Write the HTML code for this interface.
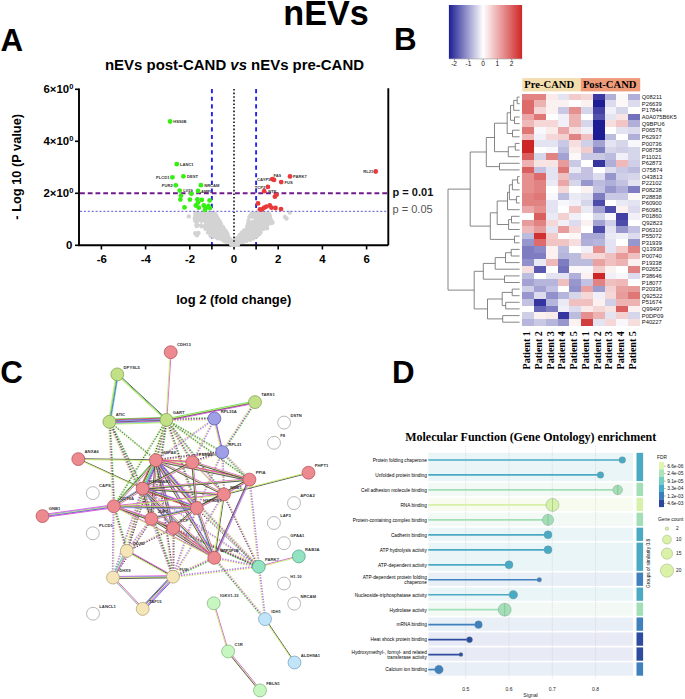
<!DOCTYPE html>
<html><head><meta charset="utf-8"><style>
html,body{margin:0;padding:0;background:#fff;width:685px;height:699px;overflow:hidden}
svg{display:block}
</style></head><body>
<svg width="685" height="699" viewBox="0 0 685 699">
<rect width="685" height="699" fill="#fff"/>
<text x="283.30" y="25.40" text-anchor="start" style="font-family:'Liberation Sans',sans-serif;font-size:34.2px;font-weight:bold;fill:#000;" >nEVs</text>
<text x="0.60" y="50.60" text-anchor="start" style="font-family:'Liberation Sans',sans-serif;font-size:31.3px;font-weight:bold;fill:#000;" >A</text>
<text x="393.90" y="50.30" text-anchor="start" style="font-family:'Liberation Sans',sans-serif;font-size:31.3px;font-weight:bold;fill:#000;" >B</text>
<text x="0.30" y="382.60" text-anchor="start" style="font-family:'Liberation Sans',sans-serif;font-size:31.3px;font-weight:bold;fill:#000;" >C</text>
<text x="392.00" y="382.50" text-anchor="start" style="font-family:'Liberation Sans',sans-serif;font-size:31.3px;font-weight:bold;fill:#000;" >D</text>
<text x="105" y="69.6" style="font-family:'Liberation Sans',sans-serif;font-size:14.95px;font-weight:bold;fill:#000">nEVs post-CAND <tspan style="font-style:italic">vs</tspan> nEVs pre-CAND</text>
<text transform="translate(20.9,166.8) rotate(-90)" text-anchor="middle" style="font-family:'Liberation Sans',sans-serif;font-size:12.8px;font-weight:bold">- Log 10 (P value)</text>
<text x="233.70" y="303.60" text-anchor="middle" style="font-family:'Liberation Sans',sans-serif;font-size:12.95px;font-weight:bold;fill:#000;" >log 2 (fold change)</text>
<text x="73.4" y="93.40" text-anchor="end" style="font-family:'Liberation Sans',sans-serif;font-size:11.4px;font-weight:bold">6×10<tspan dy="-4" style="font-size:7.6px">0</tspan></text>
<text x="73.4" y="145.40" text-anchor="end" style="font-family:'Liberation Sans',sans-serif;font-size:11.4px;font-weight:bold">4×10<tspan dy="-4" style="font-size:7.6px">0</tspan></text>
<text x="73.4" y="197.40" text-anchor="end" style="font-family:'Liberation Sans',sans-serif;font-size:11.4px;font-weight:bold">2×10<tspan dy="-4" style="font-size:7.6px">0</tspan></text>
<text x="72.40" y="249.40" text-anchor="end" style="font-family:'Liberation Sans',sans-serif;font-size:11.4px;font-weight:bold;fill:#000;" >0</text>
<text x="101.70" y="263.20" text-anchor="middle" style="font-family:'Liberation Sans',sans-serif;font-size:11.4px;font-weight:bold;fill:#000;" >-6</text>
<text x="145.90" y="263.20" text-anchor="middle" style="font-family:'Liberation Sans',sans-serif;font-size:11.4px;font-weight:bold;fill:#000;" >-4</text>
<text x="190.10" y="263.20" text-anchor="middle" style="font-family:'Liberation Sans',sans-serif;font-size:11.4px;font-weight:bold;fill:#000;" >-2</text>
<text x="234.00" y="263.20" text-anchor="middle" style="font-family:'Liberation Sans',sans-serif;font-size:11.4px;font-weight:bold;fill:#000;" >0</text>
<text x="278.20" y="263.20" text-anchor="middle" style="font-family:'Liberation Sans',sans-serif;font-size:11.4px;font-weight:bold;fill:#000;" >2</text>
<text x="322.40" y="263.20" text-anchor="middle" style="font-family:'Liberation Sans',sans-serif;font-size:11.4px;font-weight:bold;fill:#000;" >4</text>
<text x="366.60" y="263.20" text-anchor="middle" style="font-family:'Liberation Sans',sans-serif;font-size:11.4px;font-weight:bold;fill:#000;" >6</text>
<line x1="211.9" y1="89" x2="211.9" y2="245" stroke="#2424f0" stroke-width="1.9" stroke-dasharray="4.2 3.45"/>
<line x1="256.1" y1="89" x2="256.1" y2="245" stroke="#2424f0" stroke-width="1.9" stroke-dasharray="4.2 3.45"/>
<g fill="#d3d3d3">
<polygon points="195.9,213.9 215.4,213.9 217.6,219.2 222.9,226.2 227.2,234.0 231.5,241.8 232.5,244.4 229.8,244.4 226.6,241.7 217.6,238.0 211.0,235.6 207.9,232.5 205.1,228.9 201.3,226.1 196.7,226.1 196.0,224.4 195.2,220.6 195.2,213.0"/>
<circle cx="195.8" cy="213.6" r="2.2"/>
<circle cx="198.5" cy="213.5" r="2.2"/>
<circle cx="200.8" cy="213.8" r="2.2"/>
<circle cx="202.8" cy="213.9" r="2.2"/>
<circle cx="205.2" cy="213.8" r="2.2"/>
<circle cx="207.7" cy="213.5" r="2.2"/>
<circle cx="210.5" cy="214.2" r="2.2"/>
<circle cx="212.6" cy="213.6" r="2.2"/>
<circle cx="215.5" cy="214.3" r="2.2"/>
<circle cx="216.6" cy="216.4" r="2.2"/>
<circle cx="218.0" cy="218.7" r="2.2"/>
<circle cx="219.7" cy="221.3" r="2.2"/>
<circle cx="220.8" cy="223.5" r="2.2"/>
<circle cx="222.7" cy="226.6" r="2.2"/>
<circle cx="224.0" cy="228.9" r="2.2"/>
<circle cx="225.9" cy="231.3" r="2.2"/>
<circle cx="227.2" cy="233.6" r="2.2"/>
<circle cx="228.2" cy="236.3" r="2.2"/>
<circle cx="230.2" cy="239.1" r="2.2"/>
<circle cx="231.3" cy="241.9" r="2.2"/>
<circle cx="232.4" cy="244.2" r="2.2"/>
<circle cx="230.1" cy="244.6" r="2.2"/>
<circle cx="226.3" cy="241.8" r="2.2"/>
<circle cx="224.4" cy="241.1" r="2.2"/>
<circle cx="222.3" cy="239.6" r="2.2"/>
<circle cx="220.3" cy="238.6" r="2.2"/>
<circle cx="217.5" cy="238.3" r="2.2"/>
<circle cx="213.9" cy="236.8" r="2.2"/>
<circle cx="210.5" cy="235.8" r="2.2"/>
<circle cx="208.1" cy="232.6" r="2.2"/>
<circle cx="205.5" cy="228.7" r="2.2"/>
<circle cx="201.5" cy="226.2" r="2.2"/>
<circle cx="196.8" cy="226.1" r="2.2"/>
<circle cx="196.4" cy="224.8" r="2.2"/>
<circle cx="195.2" cy="220.7" r="2.2"/>
<circle cx="194.8" cy="218.3" r="2.2"/>
<circle cx="195.3" cy="216.0" r="2.2"/>
<circle cx="195.5" cy="212.8" r="2.2"/>
<polygon points="251.6,213.7 269.0,213.7 269.3,215.1 271.2,219.9 272.1,222.9 270.8,223.5 267.2,225.3 266.3,228.0 264.0,228.8 260.8,232.0 257.2,235.6 252.7,238.2 246.4,241.0 238.9,242.8 234.9,244.1 233.5,241.4 237.2,237.8 241.9,233.1 245.9,229.0 248.7,223.6 249.2,217.9"/>
<circle cx="251.5" cy="213.9" r="2.2"/>
<circle cx="253.6" cy="213.7" r="2.2"/>
<circle cx="256.3" cy="213.3" r="2.2"/>
<circle cx="258.6" cy="214.0" r="2.2"/>
<circle cx="261.2" cy="213.4" r="2.2"/>
<circle cx="263.9" cy="214.1" r="2.2"/>
<circle cx="266.1" cy="213.6" r="2.2"/>
<circle cx="269.1" cy="214.1" r="2.2"/>
<circle cx="269.6" cy="215.4" r="2.2"/>
<circle cx="270.0" cy="217.4" r="2.2"/>
<circle cx="271.1" cy="220.3" r="2.2"/>
<circle cx="272.5" cy="222.5" r="2.2"/>
<circle cx="270.5" cy="223.2" r="2.2"/>
<circle cx="266.9" cy="225.3" r="2.2"/>
<circle cx="266.4" cy="227.8" r="2.2"/>
<circle cx="263.5" cy="228.7" r="2.2"/>
<circle cx="260.7" cy="232.1" r="2.2"/>
<circle cx="259.5" cy="234.0" r="2.2"/>
<circle cx="257.2" cy="235.7" r="2.2"/>
<circle cx="255.2" cy="236.5" r="2.2"/>
<circle cx="253.1" cy="238.5" r="2.2"/>
<circle cx="250.0" cy="239.9" r="2.2"/>
<circle cx="246.3" cy="240.9" r="2.2"/>
<circle cx="243.5" cy="241.7" r="2.2"/>
<circle cx="241.0" cy="241.8" r="2.2"/>
<circle cx="238.6" cy="242.4" r="2.2"/>
<circle cx="234.7" cy="243.7" r="2.2"/>
<circle cx="233.0" cy="241.1" r="2.2"/>
<circle cx="235.0" cy="239.5" r="2.2"/>
<circle cx="236.7" cy="238.2" r="2.2"/>
<circle cx="239.6" cy="235.1" r="2.2"/>
<circle cx="241.6" cy="232.9" r="2.2"/>
<circle cx="243.8" cy="230.7" r="2.2"/>
<circle cx="246.3" cy="229.5" r="2.2"/>
<circle cx="247.3" cy="226.3" r="2.2"/>
<circle cx="248.2" cy="223.2" r="2.2"/>
<circle cx="248.7" cy="220.5" r="2.2"/>
<circle cx="249.5" cy="217.6" r="2.2"/>
<circle cx="249.9" cy="216.3" r="2.2"/>
<circle cx="188.8" cy="216.4" r="2.2"/>
<circle cx="195.2" cy="233.3" r="2.2"/>
<circle cx="198.5" cy="233.0" r="2.2"/>
<circle cx="197" cy="235.3" r="2.2"/>
<circle cx="285" cy="217.0" r="2.2"/>
<circle cx="286.5" cy="218.5" r="2.2"/>
<circle cx="289.8" cy="212.6" r="2.2"/>
<circle cx="267" cy="228.2" r="2.2"/>
<circle cx="272" cy="222.5" r="2.2"/>
</g>
<g fill="#fff"><circle cx="199.5" cy="223" r="1.1"/><circle cx="203" cy="223.5" r="1.0"/><circle cx="251" cy="219.5" r="0.9"/><circle cx="253" cy="219.3" r="0.8"/></g>
<line x1="234.0" y1="89" x2="234.0" y2="245" stroke="#111" stroke-width="1.6" stroke-dasharray="1.6 2.0"/>
<line x1="80" y1="193.3" x2="388" y2="193.3" stroke="#701a8c" stroke-width="2.1" stroke-dasharray="4.8 2.95"/>
<line x1="80" y1="211.3" x2="388" y2="211.3" stroke="#7878d8" stroke-width="1.2" stroke-dasharray="2 1.9"/>
<path d="M79,88.5 V245.3 H388.3 M388.3,88.2 V245.3" fill="none" stroke="#000" stroke-width="1.9"/>
<line x1="75" y1="89.3" x2="79" y2="89.3" stroke="#000" stroke-width="1.6"/>
<line x1="75" y1="141.3" x2="79" y2="141.3" stroke="#000" stroke-width="1.6"/>
<line x1="75" y1="193.3" x2="79" y2="193.3" stroke="#000" stroke-width="1.6"/>
<line x1="75" y1="245.3" x2="79" y2="245.3" stroke="#000" stroke-width="1.6"/>
<line x1="101.4" y1="245" x2="101.4" y2="249.5" stroke="#000" stroke-width="1.6"/>
<line x1="145.6" y1="245" x2="145.6" y2="249.5" stroke="#000" stroke-width="1.6"/>
<line x1="189.8" y1="245" x2="189.8" y2="249.5" stroke="#000" stroke-width="1.6"/>
<line x1="211.9" y1="245" x2="211.9" y2="249.5" stroke="#000" stroke-width="1.6"/>
<line x1="234.0" y1="245" x2="234.0" y2="249.5" stroke="#000" stroke-width="1.6"/>
<line x1="256.1" y1="245" x2="256.1" y2="249.5" stroke="#000" stroke-width="1.6"/>
<line x1="278.2" y1="245" x2="278.2" y2="249.5" stroke="#000" stroke-width="1.6"/>
<line x1="322.4" y1="245" x2="322.4" y2="249.5" stroke="#000" stroke-width="1.6"/>
<line x1="366.6" y1="245" x2="366.6" y2="249.5" stroke="#000" stroke-width="1.6"/>
<g fill="#d3d3d3"><circle cx="233" cy="245" r="2.2"/><circle cx="236" cy="245" r="2.2"/><circle cx="231" cy="244" r="2.2"/><circle cx="238" cy="244.5" r="2.2"/></g>
<g fill="#36ee12">
<circle cx="170.1" cy="121.5" r="2.4"/>
<circle cx="176.8" cy="164.2" r="2.4"/>
<circle cx="172.4" cy="177.3" r="2.4"/>
<circle cx="183.4" cy="176.3" r="2.4"/>
<circle cx="175.8" cy="185.3" r="2.4"/>
<circle cx="200.9" cy="185.2" r="2.4"/>
<circle cx="179.7" cy="190.6" r="2.4"/>
<circle cx="198.1" cy="191" r="2.4"/>
<circle cx="191.4" cy="193.8" r="2.4"/>
<circle cx="180.9" cy="195.7" r="2.4"/>
<circle cx="180.4" cy="199.6" r="2.4"/>
<circle cx="189.9" cy="199.6" r="2.4"/>
<circle cx="197.4" cy="199.3" r="2.4"/>
<circle cx="201.8" cy="199.9" r="2.4"/>
<circle cx="209.6" cy="200.4" r="2.4"/>
<circle cx="184.5" cy="207.4" r="2.4"/>
<circle cx="195.9" cy="205.5" r="2.4"/>
<circle cx="198" cy="202.6" r="2.4"/>
<circle cx="198.8" cy="207.7" r="2.4"/>
<circle cx="203.8" cy="205.5" r="2.4"/>
<circle cx="206.1" cy="207.7" r="2.4"/>
<circle cx="210" cy="208.1" r="2.4"/>
<circle cx="208.6" cy="205.9" r="2.4"/>
<circle cx="205" cy="209.9" r="2.4"/>
</g><g fill="#e83a3a">
<circle cx="375.7" cy="171.5" r="2.4"/>
<circle cx="272.3" cy="179.2" r="2.4"/>
<circle cx="274" cy="179.9" r="2.4"/>
<circle cx="290" cy="176.4" r="2.4"/>
<circle cx="281.2" cy="182.1" r="2.4"/>
<circle cx="267.9" cy="186.9" r="2.4"/>
<circle cx="264.2" cy="191.2" r="2.4"/>
<circle cx="276.6" cy="194.7" r="2.4"/>
<circle cx="274.9" cy="196.7" r="2.4"/>
<circle cx="258" cy="203.4" r="2.4"/>
<circle cx="259.9" cy="209.4" r="2.4"/>
<circle cx="264.2" cy="207.7" r="2.4"/>
<circle cx="266.4" cy="206.6" r="2.4"/>
<circle cx="269.8" cy="205.5" r="2.4"/>
<circle cx="271.5" cy="207.7" r="2.4"/>
<circle cx="275.5" cy="208" r="2.4"/>
<circle cx="281" cy="209.1" r="2.4"/>
<circle cx="262" cy="209.5" r="2.4"/>
</g>
<text x="173.30" y="123.00" text-anchor="start" style="font-family:'Liberation Sans',sans-serif;font-size:4.1px;font-weight:bold;fill:#333;" >HS90B</text>
<text x="180.00" y="165.70" text-anchor="start" style="font-family:'Liberation Sans',sans-serif;font-size:4.1px;font-weight:bold;fill:#333;" >LANC1</text>
<text x="169.50" y="178.80" text-anchor="end" style="font-family:'Liberation Sans',sans-serif;font-size:4.1px;font-weight:bold;fill:#333;" >PLCD1</text>
<text x="187.00" y="177.80" text-anchor="start" style="font-family:'Liberation Sans',sans-serif;font-size:4.1px;font-weight:bold;fill:#333;" >DEST</text>
<text x="172.70" y="186.80" text-anchor="end" style="font-family:'Liberation Sans',sans-serif;font-size:4.1px;font-weight:bold;fill:#333;" >PUR2</text>
<text x="204.20" y="186.70" text-anchor="start" style="font-family:'Liberation Sans',sans-serif;font-size:4.1px;font-weight:bold;fill:#333;" >NRCAM</text>
<text x="183.20" y="192.10" text-anchor="start" style="font-family:'Liberation Sans',sans-serif;font-size:4.1px;font-weight:bold;fill:#333;" >LV39</text>
<text x="201.00" y="192.50" text-anchor="start" style="font-family:'Liberation Sans',sans-serif;font-size:4.1px;font-weight:bold;fill:#333;" >AMPL</text>
<text x="373.20" y="173.00" text-anchor="end" style="font-family:'Liberation Sans',sans-serif;font-size:4.1px;font-weight:bold;fill:#333;" >RL21</text>
<text x="273.50" y="177.10" text-anchor="start" style="font-family:'Liberation Sans',sans-serif;font-size:4.1px;font-weight:bold;fill:#333;" >FA9</text>
<text x="270.40" y="180.90" text-anchor="end" style="font-family:'Liberation Sans',sans-serif;font-size:4.1px;font-weight:bold;fill:#333;" >CAYP1</text>
<text x="293.10" y="177.90" text-anchor="start" style="font-family:'Liberation Sans',sans-serif;font-size:4.1px;font-weight:bold;fill:#333;" >PARK7</text>
<text x="284.50" y="183.60" text-anchor="start" style="font-family:'Liberation Sans',sans-serif;font-size:4.1px;font-weight:bold;fill:#333;" >FUS</text>
<text x="265.30" y="188.50" text-anchor="end" style="font-family:'Liberation Sans',sans-serif;font-size:4.1px;font-weight:bold;fill:#333;" >TCP2</text>
<text x="268.30" y="192.90" text-anchor="start" style="font-family:'Liberation Sans',sans-serif;font-size:4.1px;font-weight:bold;fill:#333;" >NTE</text>
<text x="392.60" y="195.60" text-anchor="start" style="font-family:'Liberation Sans',sans-serif;font-size:11px;font-weight:bold;fill:#111;" >p = 0.01</text>
<text x="392.60" y="213.30" text-anchor="start" style="font-family:'Liberation Sans',sans-serif;font-size:11px;font-weight:normal;fill:#555;" >p = 0.05</text>
<g shape-rendering="crispEdges">
<rect x="522.20" y="93.80" width="12.07" height="6.92" fill="#e28383"/>
<rect x="533.97" y="93.80" width="12.07" height="6.92" fill="#e28383"/>
<rect x="545.73" y="93.80" width="12.07" height="6.92" fill="#faebeb"/>
<rect x="557.50" y="93.80" width="12.07" height="6.92" fill="#e3e3f2"/>
<rect x="569.26" y="93.80" width="12.07" height="6.92" fill="#f3cbcb"/>
<rect x="581.03" y="93.80" width="12.07" height="6.92" fill="#f6d7d7"/>
<rect x="592.79" y="93.80" width="12.07" height="6.92" fill="#3c3aa2"/>
<rect x="604.56" y="93.80" width="12.07" height="6.92" fill="#b0afd9"/>
<rect x="616.32" y="93.80" width="12.07" height="6.92" fill="#fdf8f8"/>
<rect x="628.09" y="93.80" width="12.07" height="6.92" fill="#b0afd9"/>
<rect x="522.20" y="100.42" width="12.07" height="6.92" fill="#dd6b6b"/>
<rect x="533.97" y="100.42" width="12.07" height="6.92" fill="#edb3b3"/>
<rect x="545.73" y="100.42" width="12.07" height="6.92" fill="#fcf1f1"/>
<rect x="557.50" y="100.42" width="12.07" height="6.92" fill="#fcf1f1"/>
<rect x="569.26" y="100.42" width="12.07" height="6.92" fill="#ffffff"/>
<rect x="581.03" y="100.42" width="12.07" height="6.92" fill="#fcf1f1"/>
<rect x="592.79" y="100.42" width="12.07" height="6.92" fill="#1e1c94"/>
<rect x="604.56" y="100.42" width="12.07" height="6.92" fill="#dddcef"/>
<rect x="616.32" y="100.42" width="12.07" height="6.92" fill="#fdf8f8"/>
<rect x="628.09" y="100.42" width="12.07" height="6.92" fill="#dddcef"/>
<rect x="522.20" y="107.04" width="12.07" height="6.92" fill="#dd6b6b"/>
<rect x="533.97" y="107.04" width="12.07" height="6.92" fill="#f6d7d7"/>
<rect x="545.73" y="107.04" width="12.07" height="6.92" fill="#fcf1f1"/>
<rect x="557.50" y="107.04" width="12.07" height="6.92" fill="#c9c9e5"/>
<rect x="569.26" y="107.04" width="12.07" height="6.92" fill="#e58f8f"/>
<rect x="581.03" y="107.04" width="12.07" height="6.92" fill="#d6d6eb"/>
<rect x="592.79" y="107.04" width="12.07" height="6.92" fill="#4240a5"/>
<rect x="604.56" y="107.04" width="12.07" height="6.92" fill="#f1f0f8"/>
<rect x="616.32" y="107.04" width="12.07" height="6.92" fill="#d6d6eb"/>
<rect x="628.09" y="107.04" width="12.07" height="6.92" fill="#ffffff"/>
<rect x="522.20" y="113.66" width="12.07" height="6.92" fill="#eba7a7"/>
<rect x="533.97" y="113.66" width="12.07" height="6.92" fill="#e07777"/>
<rect x="545.73" y="113.66" width="12.07" height="6.92" fill="#ffffff"/>
<rect x="557.50" y="113.66" width="12.07" height="6.92" fill="#f1f0f8"/>
<rect x="569.26" y="113.66" width="12.07" height="6.92" fill="#edb3b3"/>
<rect x="581.03" y="113.66" width="12.07" height="6.92" fill="#ffffff"/>
<rect x="592.79" y="113.66" width="12.07" height="6.92" fill="#5452ae"/>
<rect x="604.56" y="113.66" width="12.07" height="6.92" fill="#e3e3f2"/>
<rect x="616.32" y="113.66" width="12.07" height="6.92" fill="#f9e4e4"/>
<rect x="628.09" y="113.66" width="12.07" height="6.92" fill="#7271bc"/>
<rect x="522.20" y="120.28" width="12.07" height="6.92" fill="#efb9b9"/>
<rect x="533.97" y="120.28" width="12.07" height="6.92" fill="#f6d7d7"/>
<rect x="545.73" y="120.28" width="12.07" height="6.92" fill="#f6d7d7"/>
<rect x="557.50" y="120.28" width="12.07" height="6.92" fill="#f1f0f8"/>
<rect x="569.26" y="120.28" width="12.07" height="6.92" fill="#edb3b3"/>
<rect x="581.03" y="120.28" width="12.07" height="6.92" fill="#d6d6eb"/>
<rect x="592.79" y="120.28" width="12.07" height="6.92" fill="#1e1c94"/>
<rect x="604.56" y="120.28" width="12.07" height="6.92" fill="#f7dede"/>
<rect x="616.32" y="120.28" width="12.07" height="6.92" fill="#f2c5c5"/>
<rect x="628.09" y="120.28" width="12.07" height="6.92" fill="#b0afd9"/>
<rect x="522.20" y="126.90" width="12.07" height="6.92" fill="#e07777"/>
<rect x="533.97" y="126.90" width="12.07" height="6.92" fill="#f8f7fb"/>
<rect x="545.73" y="126.90" width="12.07" height="6.92" fill="#faebeb"/>
<rect x="557.50" y="126.90" width="12.07" height="6.92" fill="#eba7a7"/>
<rect x="569.26" y="126.90" width="12.07" height="6.92" fill="#f7dede"/>
<rect x="581.03" y="126.90" width="12.07" height="6.92" fill="#f1f0f8"/>
<rect x="592.79" y="126.90" width="12.07" height="6.92" fill="#1e1c94"/>
<rect x="604.56" y="126.90" width="12.07" height="6.92" fill="#ffffff"/>
<rect x="616.32" y="126.90" width="12.07" height="6.92" fill="#e3e3f2"/>
<rect x="628.09" y="126.90" width="12.07" height="6.92" fill="#dddcef"/>
<rect x="522.20" y="133.52" width="12.07" height="6.92" fill="#efb9b9"/>
<rect x="533.97" y="133.52" width="12.07" height="6.92" fill="#f1f0f8"/>
<rect x="545.73" y="133.52" width="12.07" height="6.92" fill="#f6d7d7"/>
<rect x="557.50" y="133.52" width="12.07" height="6.92" fill="#f4d1d1"/>
<rect x="569.26" y="133.52" width="12.07" height="6.92" fill="#e28383"/>
<rect x="581.03" y="133.52" width="12.07" height="6.92" fill="#f0bfbf"/>
<rect x="592.79" y="133.52" width="12.07" height="6.92" fill="#1e1c94"/>
<rect x="604.56" y="133.52" width="12.07" height="6.92" fill="#bcbcdf"/>
<rect x="616.32" y="133.52" width="12.07" height="6.92" fill="#ffffff"/>
<rect x="628.09" y="133.52" width="12.07" height="6.92" fill="#b0afd9"/>
<rect x="522.20" y="140.14" width="12.07" height="6.92" fill="#cd2626"/>
<rect x="533.97" y="140.14" width="12.07" height="6.92" fill="#e3e3f2"/>
<rect x="545.73" y="140.14" width="12.07" height="6.92" fill="#e3e3f2"/>
<rect x="557.50" y="140.14" width="12.07" height="6.92" fill="#c9c9e5"/>
<rect x="569.26" y="140.14" width="12.07" height="6.92" fill="#f7dede"/>
<rect x="581.03" y="140.14" width="12.07" height="6.92" fill="#d0cfe8"/>
<rect x="592.79" y="140.14" width="12.07" height="6.92" fill="#a3a2d3"/>
<rect x="604.56" y="140.14" width="12.07" height="6.92" fill="#e3e3f2"/>
<rect x="616.32" y="140.14" width="12.07" height="6.92" fill="#d6d6eb"/>
<rect x="628.09" y="140.14" width="12.07" height="6.92" fill="#f8f7fb"/>
<rect x="522.20" y="146.76" width="12.07" height="6.92" fill="#cd2626"/>
<rect x="533.97" y="146.76" width="12.07" height="6.92" fill="#ffffff"/>
<rect x="545.73" y="146.76" width="12.07" height="6.92" fill="#f8f7fb"/>
<rect x="557.50" y="146.76" width="12.07" height="6.92" fill="#bcbcdf"/>
<rect x="569.26" y="146.76" width="12.07" height="6.92" fill="#faebeb"/>
<rect x="581.03" y="146.76" width="12.07" height="6.92" fill="#f3cbcb"/>
<rect x="592.79" y="146.76" width="12.07" height="6.92" fill="#7e7dc2"/>
<rect x="604.56" y="146.76" width="12.07" height="6.92" fill="#d6d6eb"/>
<rect x="616.32" y="146.76" width="12.07" height="6.92" fill="#d0cfe8"/>
<rect x="628.09" y="146.76" width="12.07" height="6.92" fill="#d6d6eb"/>
<rect x="522.20" y="153.38" width="12.07" height="6.92" fill="#da6060"/>
<rect x="533.97" y="153.38" width="12.07" height="6.92" fill="#d6d6eb"/>
<rect x="545.73" y="153.38" width="12.07" height="6.92" fill="#e28383"/>
<rect x="557.50" y="153.38" width="12.07" height="6.92" fill="#a3a2d3"/>
<rect x="569.26" y="153.38" width="12.07" height="6.92" fill="#fdf8f8"/>
<rect x="581.03" y="153.38" width="12.07" height="6.92" fill="#c9c9e5"/>
<rect x="592.79" y="153.38" width="12.07" height="6.92" fill="#c9c9e5"/>
<rect x="604.56" y="153.38" width="12.07" height="6.92" fill="#bcbcdf"/>
<rect x="616.32" y="153.38" width="12.07" height="6.92" fill="#f1f0f8"/>
<rect x="628.09" y="153.38" width="12.07" height="6.92" fill="#d6d6eb"/>
<rect x="522.20" y="160.00" width="12.07" height="6.92" fill="#edb3b3"/>
<rect x="533.97" y="160.00" width="12.07" height="6.92" fill="#f9e4e4"/>
<rect x="545.73" y="160.00" width="12.07" height="6.92" fill="#f9e4e4"/>
<rect x="557.50" y="160.00" width="12.07" height="6.92" fill="#e89b9b"/>
<rect x="569.26" y="160.00" width="12.07" height="6.92" fill="#c9c9e5"/>
<rect x="581.03" y="160.00" width="12.07" height="6.92" fill="#ffffff"/>
<rect x="592.79" y="160.00" width="12.07" height="6.92" fill="#36349f"/>
<rect x="604.56" y="160.00" width="12.07" height="6.92" fill="#b0afd9"/>
<rect x="616.32" y="160.00" width="12.07" height="6.92" fill="#efb9b9"/>
<rect x="628.09" y="160.00" width="12.07" height="6.92" fill="#d0cfe8"/>
<rect x="522.20" y="166.62" width="12.07" height="6.92" fill="#da6060"/>
<rect x="533.97" y="166.62" width="12.07" height="6.92" fill="#c3c2e2"/>
<rect x="545.73" y="166.62" width="12.07" height="6.92" fill="#e3e3f2"/>
<rect x="557.50" y="166.62" width="12.07" height="6.92" fill="#e07777"/>
<rect x="569.26" y="166.62" width="12.07" height="6.92" fill="#eaeaf5"/>
<rect x="581.03" y="166.62" width="12.07" height="6.92" fill="#c3c2e2"/>
<rect x="592.79" y="166.62" width="12.07" height="6.92" fill="#ffffff"/>
<rect x="604.56" y="166.62" width="12.07" height="6.92" fill="#dddcef"/>
<rect x="616.32" y="166.62" width="12.07" height="6.92" fill="#c9c9e5"/>
<rect x="628.09" y="166.62" width="12.07" height="6.92" fill="#bcbcdf"/>
<rect x="522.20" y="173.24" width="12.07" height="6.92" fill="#e58f8f"/>
<rect x="533.97" y="173.24" width="12.07" height="6.92" fill="#dd6b6b"/>
<rect x="545.73" y="173.24" width="12.07" height="6.92" fill="#e3e3f2"/>
<rect x="557.50" y="173.24" width="12.07" height="6.92" fill="#f0bfbf"/>
<rect x="569.26" y="173.24" width="12.07" height="6.92" fill="#c3c2e2"/>
<rect x="581.03" y="173.24" width="12.07" height="6.92" fill="#c3c2e2"/>
<rect x="592.79" y="173.24" width="12.07" height="6.92" fill="#dddcef"/>
<rect x="604.56" y="173.24" width="12.07" height="6.92" fill="#9796cd"/>
<rect x="616.32" y="173.24" width="12.07" height="6.92" fill="#d0cfe8"/>
<rect x="628.09" y="173.24" width="12.07" height="6.92" fill="#d6d6eb"/>
<rect x="522.20" y="179.86" width="12.07" height="6.92" fill="#e58f8f"/>
<rect x="533.97" y="179.86" width="12.07" height="6.92" fill="#e28383"/>
<rect x="545.73" y="179.86" width="12.07" height="6.92" fill="#eaeaf5"/>
<rect x="557.50" y="179.86" width="12.07" height="6.92" fill="#eba7a7"/>
<rect x="569.26" y="179.86" width="12.07" height="6.92" fill="#d6d6eb"/>
<rect x="581.03" y="179.86" width="12.07" height="6.92" fill="#9796cd"/>
<rect x="592.79" y="179.86" width="12.07" height="6.92" fill="#bcbcdf"/>
<rect x="604.56" y="179.86" width="12.07" height="6.92" fill="#b0afd9"/>
<rect x="616.32" y="179.86" width="12.07" height="6.92" fill="#c3c2e2"/>
<rect x="628.09" y="179.86" width="12.07" height="6.92" fill="#e3e3f2"/>
<rect x="522.20" y="186.48" width="12.07" height="6.92" fill="#e58f8f"/>
<rect x="533.97" y="186.48" width="12.07" height="6.92" fill="#e28383"/>
<rect x="545.73" y="186.48" width="12.07" height="6.92" fill="#ffffff"/>
<rect x="557.50" y="186.48" width="12.07" height="6.92" fill="#f6d7d7"/>
<rect x="569.26" y="186.48" width="12.07" height="6.92" fill="#ffffff"/>
<rect x="581.03" y="186.48" width="12.07" height="6.92" fill="#fcf1f1"/>
<rect x="592.79" y="186.48" width="12.07" height="6.92" fill="#c3c2e2"/>
<rect x="604.56" y="186.48" width="12.07" height="6.92" fill="#9796cd"/>
<rect x="616.32" y="186.48" width="12.07" height="6.92" fill="#b0afd9"/>
<rect x="628.09" y="186.48" width="12.07" height="6.92" fill="#7e7dc2"/>
<rect x="522.20" y="193.10" width="12.07" height="6.92" fill="#e28383"/>
<rect x="533.97" y="193.10" width="12.07" height="6.92" fill="#e07777"/>
<rect x="545.73" y="193.10" width="12.07" height="6.92" fill="#f8f7fb"/>
<rect x="557.50" y="193.10" width="12.07" height="6.92" fill="#bcbcdf"/>
<rect x="569.26" y="193.10" width="12.07" height="6.92" fill="#eaeaf5"/>
<rect x="581.03" y="193.10" width="12.07" height="6.92" fill="#e3e3f2"/>
<rect x="592.79" y="193.10" width="12.07" height="6.92" fill="#7e7dc2"/>
<rect x="604.56" y="193.10" width="12.07" height="6.92" fill="#c9c9e5"/>
<rect x="616.32" y="193.10" width="12.07" height="6.92" fill="#c9c9e5"/>
<rect x="628.09" y="193.10" width="12.07" height="6.92" fill="#fdf8f8"/>
<rect x="522.20" y="199.72" width="12.07" height="6.92" fill="#e28383"/>
<rect x="533.97" y="199.72" width="12.07" height="6.92" fill="#e28383"/>
<rect x="545.73" y="199.72" width="12.07" height="6.92" fill="#e3e3f2"/>
<rect x="557.50" y="199.72" width="12.07" height="6.92" fill="#f8f7fb"/>
<rect x="569.26" y="199.72" width="12.07" height="6.92" fill="#f1f0f8"/>
<rect x="581.03" y="199.72" width="12.07" height="6.92" fill="#d6d6eb"/>
<rect x="592.79" y="199.72" width="12.07" height="6.92" fill="#4e4cab"/>
<rect x="604.56" y="199.72" width="12.07" height="6.92" fill="#ffffff"/>
<rect x="616.32" y="199.72" width="12.07" height="6.92" fill="#eaeaf5"/>
<rect x="628.09" y="199.72" width="12.07" height="6.92" fill="#e3e3f2"/>
<rect x="522.20" y="206.34" width="12.07" height="6.92" fill="#eba7a7"/>
<rect x="533.97" y="206.34" width="12.07" height="6.92" fill="#e58f8f"/>
<rect x="545.73" y="206.34" width="12.07" height="6.92" fill="#e3e3f2"/>
<rect x="557.50" y="206.34" width="12.07" height="6.92" fill="#ffffff"/>
<rect x="569.26" y="206.34" width="12.07" height="6.92" fill="#f2c5c5"/>
<rect x="581.03" y="206.34" width="12.07" height="6.92" fill="#eaeaf5"/>
<rect x="592.79" y="206.34" width="12.07" height="6.92" fill="#a3a2d3"/>
<rect x="604.56" y="206.34" width="12.07" height="6.92" fill="#4e4cab"/>
<rect x="616.32" y="206.34" width="12.07" height="6.92" fill="#fcf1f1"/>
<rect x="628.09" y="206.34" width="12.07" height="6.92" fill="#dddcef"/>
<rect x="522.20" y="212.96" width="12.07" height="6.92" fill="#ffffff"/>
<rect x="533.97" y="212.96" width="12.07" height="6.92" fill="#da6060"/>
<rect x="545.73" y="212.96" width="12.07" height="6.92" fill="#eaeaf5"/>
<rect x="557.50" y="212.96" width="12.07" height="6.92" fill="#f4d1d1"/>
<rect x="569.26" y="212.96" width="12.07" height="6.92" fill="#f1f0f8"/>
<rect x="581.03" y="212.96" width="12.07" height="6.92" fill="#ffffff"/>
<rect x="592.79" y="212.96" width="12.07" height="6.92" fill="#d6d6eb"/>
<rect x="604.56" y="212.96" width="12.07" height="6.92" fill="#f8f7fb"/>
<rect x="616.32" y="212.96" width="12.07" height="6.92" fill="#4240a5"/>
<rect x="628.09" y="212.96" width="12.07" height="6.92" fill="#f1f0f8"/>
<rect x="522.20" y="219.58" width="12.07" height="6.92" fill="#e89b9b"/>
<rect x="533.97" y="219.58" width="12.07" height="6.92" fill="#e28383"/>
<rect x="545.73" y="219.58" width="12.07" height="6.92" fill="#f6d7d7"/>
<rect x="557.50" y="219.58" width="12.07" height="6.92" fill="#f1f0f8"/>
<rect x="569.26" y="219.58" width="12.07" height="6.92" fill="#dddcef"/>
<rect x="581.03" y="219.58" width="12.07" height="6.92" fill="#fcf1f1"/>
<rect x="592.79" y="219.58" width="12.07" height="6.92" fill="#a3a2d3"/>
<rect x="604.56" y="219.58" width="12.07" height="6.92" fill="#d0cfe8"/>
<rect x="616.32" y="219.58" width="12.07" height="6.92" fill="#4e4cab"/>
<rect x="628.09" y="219.58" width="12.07" height="6.92" fill="#ffffff"/>
<rect x="522.20" y="226.20" width="12.07" height="6.92" fill="#efb9b9"/>
<rect x="533.97" y="226.20" width="12.07" height="6.92" fill="#e89b9b"/>
<rect x="545.73" y="226.20" width="12.07" height="6.92" fill="#e3e3f2"/>
<rect x="557.50" y="226.20" width="12.07" height="6.92" fill="#e89b9b"/>
<rect x="569.26" y="226.20" width="12.07" height="6.92" fill="#f6d7d7"/>
<rect x="581.03" y="226.20" width="12.07" height="6.92" fill="#ffffff"/>
<rect x="592.79" y="226.20" width="12.07" height="6.92" fill="#4e4cab"/>
<rect x="604.56" y="226.20" width="12.07" height="6.92" fill="#e3e3f2"/>
<rect x="616.32" y="226.20" width="12.07" height="6.92" fill="#9796cd"/>
<rect x="628.09" y="226.20" width="12.07" height="6.92" fill="#c3c2e2"/>
<rect x="522.20" y="232.82" width="12.07" height="6.92" fill="#bcbcdf"/>
<rect x="533.97" y="232.82" width="12.07" height="6.92" fill="#d03131"/>
<rect x="545.73" y="232.82" width="12.07" height="6.92" fill="#f3cbcb"/>
<rect x="557.50" y="232.82" width="12.07" height="6.92" fill="#ffffff"/>
<rect x="569.26" y="232.82" width="12.07" height="6.92" fill="#fdf8f8"/>
<rect x="581.03" y="232.82" width="12.07" height="6.92" fill="#aaa9d6"/>
<rect x="592.79" y="232.82" width="12.07" height="6.92" fill="#aaa9d6"/>
<rect x="604.56" y="232.82" width="12.07" height="6.92" fill="#eaeaf5"/>
<rect x="616.32" y="232.82" width="12.07" height="6.92" fill="#f1f0f8"/>
<rect x="628.09" y="232.82" width="12.07" height="6.92" fill="#dddcef"/>
<rect x="522.20" y="239.44" width="12.07" height="6.92" fill="#9796cd"/>
<rect x="533.97" y="239.44" width="12.07" height="6.92" fill="#dd6b6b"/>
<rect x="545.73" y="239.44" width="12.07" height="6.92" fill="#f2c5c5"/>
<rect x="557.50" y="239.44" width="12.07" height="6.92" fill="#f2c5c5"/>
<rect x="569.26" y="239.44" width="12.07" height="6.92" fill="#f7dede"/>
<rect x="581.03" y="239.44" width="12.07" height="6.92" fill="#b0afd9"/>
<rect x="592.79" y="239.44" width="12.07" height="6.92" fill="#b6b5dc"/>
<rect x="604.56" y="239.44" width="12.07" height="6.92" fill="#e3e3f2"/>
<rect x="616.32" y="239.44" width="12.07" height="6.92" fill="#ffffff"/>
<rect x="628.09" y="239.44" width="12.07" height="6.92" fill="#9796cd"/>
<rect x="522.20" y="246.06" width="12.07" height="6.92" fill="#7e7dc2"/>
<rect x="533.97" y="246.06" width="12.07" height="6.92" fill="#8b89c8"/>
<rect x="545.73" y="246.06" width="12.07" height="6.92" fill="#fcf1f1"/>
<rect x="557.50" y="246.06" width="12.07" height="6.92" fill="#bcbcdf"/>
<rect x="569.26" y="246.06" width="12.07" height="6.92" fill="#ffffff"/>
<rect x="581.03" y="246.06" width="12.07" height="6.92" fill="#f1f0f8"/>
<rect x="592.79" y="246.06" width="12.07" height="6.92" fill="#e58f8f"/>
<rect x="604.56" y="246.06" width="12.07" height="6.92" fill="#e3e3f2"/>
<rect x="616.32" y="246.06" width="12.07" height="6.92" fill="#f3cbcb"/>
<rect x="628.09" y="246.06" width="12.07" height="6.92" fill="#e28383"/>
<rect x="522.20" y="252.68" width="12.07" height="6.92" fill="#7e7dc2"/>
<rect x="533.97" y="252.68" width="12.07" height="6.92" fill="#7e7dc2"/>
<rect x="545.73" y="252.68" width="12.07" height="6.92" fill="#fcf1f1"/>
<rect x="557.50" y="252.68" width="12.07" height="6.92" fill="#b6b5dc"/>
<rect x="569.26" y="252.68" width="12.07" height="6.92" fill="#bcbcdf"/>
<rect x="581.03" y="252.68" width="12.07" height="6.92" fill="#f6d7d7"/>
<rect x="592.79" y="252.68" width="12.07" height="6.92" fill="#f6d7d7"/>
<rect x="604.56" y="252.68" width="12.07" height="6.92" fill="#f0bfbf"/>
<rect x="616.32" y="252.68" width="12.07" height="6.92" fill="#e89b9b"/>
<rect x="628.09" y="252.68" width="12.07" height="6.92" fill="#f0bfbf"/>
<rect x="522.20" y="259.30" width="12.07" height="6.92" fill="#9190cb"/>
<rect x="533.97" y="259.30" width="12.07" height="6.92" fill="#eaeaf5"/>
<rect x="545.73" y="259.30" width="12.07" height="6.92" fill="#efb9b9"/>
<rect x="557.50" y="259.30" width="12.07" height="6.92" fill="#7e7dc2"/>
<rect x="569.26" y="259.30" width="12.07" height="6.92" fill="#bcbcdf"/>
<rect x="581.03" y="259.30" width="12.07" height="6.92" fill="#bcbcdf"/>
<rect x="592.79" y="259.30" width="12.07" height="6.92" fill="#e9a1a1"/>
<rect x="604.56" y="259.30" width="12.07" height="6.92" fill="#f0bfbf"/>
<rect x="616.32" y="259.30" width="12.07" height="6.92" fill="#edb3b3"/>
<rect x="628.09" y="259.30" width="12.07" height="6.92" fill="#fcf1f1"/>
<rect x="522.20" y="265.92" width="12.07" height="6.92" fill="#f7dede"/>
<rect x="533.97" y="265.92" width="12.07" height="6.92" fill="#5a58b0"/>
<rect x="545.73" y="265.92" width="12.07" height="6.92" fill="#ffffff"/>
<rect x="557.50" y="265.92" width="12.07" height="6.92" fill="#7271bc"/>
<rect x="569.26" y="265.92" width="12.07" height="6.92" fill="#fdf8f8"/>
<rect x="581.03" y="265.92" width="12.07" height="6.92" fill="#f8f7fb"/>
<rect x="592.79" y="265.92" width="12.07" height="6.92" fill="#f3cbcb"/>
<rect x="604.56" y="265.92" width="12.07" height="6.92" fill="#fcf1f1"/>
<rect x="616.32" y="265.92" width="12.07" height="6.92" fill="#ffffff"/>
<rect x="628.09" y="265.92" width="12.07" height="6.92" fill="#e28383"/>
<rect x="522.20" y="272.54" width="12.07" height="6.92" fill="#bcbcdf"/>
<rect x="533.97" y="272.54" width="12.07" height="6.92" fill="#ffffff"/>
<rect x="545.73" y="272.54" width="12.07" height="6.92" fill="#e3e3f2"/>
<rect x="557.50" y="272.54" width="12.07" height="6.92" fill="#e3e3f2"/>
<rect x="569.26" y="272.54" width="12.07" height="6.92" fill="#b0afd9"/>
<rect x="581.03" y="272.54" width="12.07" height="6.92" fill="#fcf1f1"/>
<rect x="592.79" y="272.54" width="12.07" height="6.92" fill="#cd2626"/>
<rect x="604.56" y="272.54" width="12.07" height="6.92" fill="#f1f0f8"/>
<rect x="616.32" y="272.54" width="12.07" height="6.92" fill="#f8f7fb"/>
<rect x="628.09" y="272.54" width="12.07" height="6.92" fill="#dddcef"/>
<rect x="522.20" y="279.16" width="12.07" height="6.92" fill="#a3a2d3"/>
<rect x="533.97" y="279.16" width="12.07" height="6.92" fill="#b6b5dc"/>
<rect x="545.73" y="279.16" width="12.07" height="6.92" fill="#b6b5dc"/>
<rect x="557.50" y="279.16" width="12.07" height="6.92" fill="#f0bfbf"/>
<rect x="569.26" y="279.16" width="12.07" height="6.92" fill="#9796cd"/>
<rect x="581.03" y="279.16" width="12.07" height="6.92" fill="#c3c2e2"/>
<rect x="592.79" y="279.16" width="12.07" height="6.92" fill="#e28383"/>
<rect x="604.56" y="279.16" width="12.07" height="6.92" fill="#f0bfbf"/>
<rect x="616.32" y="279.16" width="12.07" height="6.92" fill="#efb9b9"/>
<rect x="628.09" y="279.16" width="12.07" height="6.92" fill="#ffffff"/>
<rect x="522.20" y="285.78" width="12.07" height="6.92" fill="#d0cfe8"/>
<rect x="533.97" y="285.78" width="12.07" height="6.92" fill="#a3a2d3"/>
<rect x="545.73" y="285.78" width="12.07" height="6.92" fill="#c3c2e2"/>
<rect x="557.50" y="285.78" width="12.07" height="6.92" fill="#ffffff"/>
<rect x="569.26" y="285.78" width="12.07" height="6.92" fill="#9190cb"/>
<rect x="581.03" y="285.78" width="12.07" height="6.92" fill="#e9a1a1"/>
<rect x="592.79" y="285.78" width="12.07" height="6.92" fill="#9d9cd0"/>
<rect x="604.56" y="285.78" width="12.07" height="6.92" fill="#f4d1d1"/>
<rect x="616.32" y="285.78" width="12.07" height="6.92" fill="#e9a1a1"/>
<rect x="628.09" y="285.78" width="12.07" height="6.92" fill="#e89b9b"/>
<rect x="522.20" y="292.40" width="12.07" height="6.92" fill="#9796cd"/>
<rect x="533.97" y="292.40" width="12.07" height="6.92" fill="#dddcef"/>
<rect x="545.73" y="292.40" width="12.07" height="6.92" fill="#9190cb"/>
<rect x="557.50" y="292.40" width="12.07" height="6.92" fill="#b6b5dc"/>
<rect x="569.26" y="292.40" width="12.07" height="6.92" fill="#d6d6eb"/>
<rect x="581.03" y="292.40" width="12.07" height="6.92" fill="#f6d7d7"/>
<rect x="592.79" y="292.40" width="12.07" height="6.92" fill="#f1f0f8"/>
<rect x="604.56" y="292.40" width="12.07" height="6.92" fill="#f6d7d7"/>
<rect x="616.32" y="292.40" width="12.07" height="6.92" fill="#e89b9b"/>
<rect x="628.09" y="292.40" width="12.07" height="6.92" fill="#e07777"/>
<rect x="522.20" y="299.02" width="12.07" height="6.92" fill="#c3c2e2"/>
<rect x="533.97" y="299.02" width="12.07" height="6.92" fill="#36349f"/>
<rect x="545.73" y="299.02" width="12.07" height="6.92" fill="#b6b5dc"/>
<rect x="557.50" y="299.02" width="12.07" height="6.92" fill="#eaeaf5"/>
<rect x="569.26" y="299.02" width="12.07" height="6.92" fill="#f0bfbf"/>
<rect x="581.03" y="299.02" width="12.07" height="6.92" fill="#f0bfbf"/>
<rect x="592.79" y="299.02" width="12.07" height="6.92" fill="#fcf1f1"/>
<rect x="604.56" y="299.02" width="12.07" height="6.92" fill="#d0cfe8"/>
<rect x="616.32" y="299.02" width="12.07" height="6.92" fill="#edb3b3"/>
<rect x="628.09" y="299.02" width="12.07" height="6.92" fill="#edb3b3"/>
<rect x="522.20" y="305.64" width="12.07" height="6.92" fill="#ffffff"/>
<rect x="533.97" y="305.64" width="12.07" height="6.92" fill="#6665b6"/>
<rect x="545.73" y="305.64" width="12.07" height="6.92" fill="#7e7dc2"/>
<rect x="557.50" y="305.64" width="12.07" height="6.92" fill="#f1f0f8"/>
<rect x="569.26" y="305.64" width="12.07" height="6.92" fill="#dddcef"/>
<rect x="581.03" y="305.64" width="12.07" height="6.92" fill="#faebeb"/>
<rect x="592.79" y="305.64" width="12.07" height="6.92" fill="#f6d7d7"/>
<rect x="604.56" y="305.64" width="12.07" height="6.92" fill="#f9e4e4"/>
<rect x="616.32" y="305.64" width="12.07" height="6.92" fill="#da6060"/>
<rect x="628.09" y="305.64" width="12.07" height="6.92" fill="#fcf1f1"/>
<rect x="522.20" y="312.26" width="12.07" height="6.92" fill="#d0cfe8"/>
<rect x="533.97" y="312.26" width="12.07" height="6.92" fill="#fcf1f1"/>
<rect x="545.73" y="312.26" width="12.07" height="6.92" fill="#faebeb"/>
<rect x="557.50" y="312.26" width="12.07" height="6.92" fill="#36349f"/>
<rect x="569.26" y="312.26" width="12.07" height="6.92" fill="#bcbcdf"/>
<rect x="581.03" y="312.26" width="12.07" height="6.92" fill="#e58f8f"/>
<rect x="592.79" y="312.26" width="12.07" height="6.92" fill="#edb3b3"/>
<rect x="604.56" y="312.26" width="12.07" height="6.92" fill="#e3e3f2"/>
<rect x="616.32" y="312.26" width="12.07" height="6.92" fill="#f4d1d1"/>
<rect x="628.09" y="312.26" width="12.07" height="6.92" fill="#d6d6eb"/>
<rect x="522.20" y="318.88" width="12.07" height="6.92" fill="#b6b5dc"/>
<rect x="533.97" y="318.88" width="12.07" height="6.92" fill="#c9c9e5"/>
<rect x="545.73" y="318.88" width="12.07" height="6.92" fill="#b6b5dc"/>
<rect x="557.50" y="318.88" width="12.07" height="6.92" fill="#9796cd"/>
<rect x="569.26" y="318.88" width="12.07" height="6.92" fill="#fcf1f1"/>
<rect x="581.03" y="318.88" width="12.07" height="6.92" fill="#d23d3d"/>
<rect x="592.79" y="318.88" width="12.07" height="6.92" fill="#e3e3f2"/>
<rect x="604.56" y="318.88" width="12.07" height="6.92" fill="#f6d7d7"/>
<rect x="616.32" y="318.88" width="12.07" height="6.92" fill="#f8f7fb"/>
<rect x="628.09" y="318.88" width="12.07" height="6.92" fill="#f7dede"/>
</g>
<text x="641.80" y="99.21" text-anchor="start" style="font-family:'Liberation Sans',sans-serif;font-size:5.8px;font-weight:normal;fill:#111;" >Q08211</text>
<text x="641.80" y="105.83" text-anchor="start" style="font-family:'Liberation Sans',sans-serif;font-size:5.8px;font-weight:normal;fill:#111;" >P26639</text>
<text x="641.80" y="112.45" text-anchor="start" style="font-family:'Liberation Sans',sans-serif;font-size:5.8px;font-weight:normal;fill:#111;" >P17844</text>
<text x="641.80" y="119.07" text-anchor="start" style="font-family:'Liberation Sans',sans-serif;font-size:5.8px;font-weight:normal;fill:#111;" >A0A075B6K5</text>
<text x="641.80" y="125.69" text-anchor="start" style="font-family:'Liberation Sans',sans-serif;font-size:5.8px;font-weight:normal;fill:#111;" >Q9BPU6</text>
<text x="641.80" y="132.31" text-anchor="start" style="font-family:'Liberation Sans',sans-serif;font-size:5.8px;font-weight:normal;fill:#111;" >P06576</text>
<text x="641.80" y="138.93" text-anchor="start" style="font-family:'Liberation Sans',sans-serif;font-size:5.8px;font-weight:normal;fill:#111;" >P62937</text>
<text x="641.80" y="145.55" text-anchor="start" style="font-family:'Liberation Sans',sans-serif;font-size:5.8px;font-weight:normal;fill:#111;" >P00736</text>
<text x="641.80" y="152.17" text-anchor="start" style="font-family:'Liberation Sans',sans-serif;font-size:5.8px;font-weight:normal;fill:#111;" >P08758</text>
<text x="641.80" y="158.79" text-anchor="start" style="font-family:'Liberation Sans',sans-serif;font-size:5.8px;font-weight:normal;fill:#111;" >P11021</text>
<text x="641.80" y="165.41" text-anchor="start" style="font-family:'Liberation Sans',sans-serif;font-size:5.8px;font-weight:normal;fill:#111;" >P62873</text>
<text x="641.80" y="172.03" text-anchor="start" style="font-family:'Liberation Sans',sans-serif;font-size:5.8px;font-weight:normal;fill:#111;" >O75874</text>
<text x="641.80" y="178.65" text-anchor="start" style="font-family:'Liberation Sans',sans-serif;font-size:5.8px;font-weight:normal;fill:#111;" >O43813</text>
<text x="641.80" y="185.27" text-anchor="start" style="font-family:'Liberation Sans',sans-serif;font-size:5.8px;font-weight:normal;fill:#111;" >P22102</text>
<text x="641.80" y="191.89" text-anchor="start" style="font-family:'Liberation Sans',sans-serif;font-size:5.8px;font-weight:normal;fill:#111;" >P08238</text>
<text x="641.80" y="198.51" text-anchor="start" style="font-family:'Liberation Sans',sans-serif;font-size:5.8px;font-weight:normal;fill:#111;" >P28838</text>
<text x="641.80" y="205.13" text-anchor="start" style="font-family:'Liberation Sans',sans-serif;font-size:5.8px;font-weight:normal;fill:#111;" >P60900</text>
<text x="641.80" y="211.75" text-anchor="start" style="font-family:'Liberation Sans',sans-serif;font-size:5.8px;font-weight:normal;fill:#111;" >P60981</text>
<text x="641.80" y="218.37" text-anchor="start" style="font-family:'Liberation Sans',sans-serif;font-size:5.8px;font-weight:normal;fill:#111;" >P01860</text>
<text x="641.80" y="224.99" text-anchor="start" style="font-family:'Liberation Sans',sans-serif;font-size:5.8px;font-weight:normal;fill:#111;" >Q92823</text>
<text x="641.80" y="231.61" text-anchor="start" style="font-family:'Liberation Sans',sans-serif;font-size:5.8px;font-weight:normal;fill:#111;" >P06310</text>
<text x="641.80" y="238.23" text-anchor="start" style="font-family:'Liberation Sans',sans-serif;font-size:5.8px;font-weight:normal;fill:#111;" >P55072</text>
<text x="641.80" y="244.85" text-anchor="start" style="font-family:'Liberation Sans',sans-serif;font-size:5.8px;font-weight:normal;fill:#111;" >P31939</text>
<text x="641.80" y="251.47" text-anchor="start" style="font-family:'Liberation Sans',sans-serif;font-size:5.8px;font-weight:normal;fill:#111;" >Q13938</text>
<text x="641.80" y="258.09" text-anchor="start" style="font-family:'Liberation Sans',sans-serif;font-size:5.8px;font-weight:normal;fill:#111;" >P00740</text>
<text x="641.80" y="264.71" text-anchor="start" style="font-family:'Liberation Sans',sans-serif;font-size:5.8px;font-weight:normal;fill:#111;" >P19338</text>
<text x="641.80" y="271.33" text-anchor="start" style="font-family:'Liberation Sans',sans-serif;font-size:5.8px;font-weight:normal;fill:#111;" >P02652</text>
<text x="641.80" y="277.95" text-anchor="start" style="font-family:'Liberation Sans',sans-serif;font-size:5.8px;font-weight:normal;fill:#111;" >P38646</text>
<text x="641.80" y="284.57" text-anchor="start" style="font-family:'Liberation Sans',sans-serif;font-size:5.8px;font-weight:normal;fill:#111;" >P18077</text>
<text x="641.80" y="291.19" text-anchor="start" style="font-family:'Liberation Sans',sans-serif;font-size:5.8px;font-weight:normal;fill:#111;" >P20336</text>
<text x="641.80" y="297.81" text-anchor="start" style="font-family:'Liberation Sans',sans-serif;font-size:5.8px;font-weight:normal;fill:#111;" >Q92522</text>
<text x="641.80" y="304.43" text-anchor="start" style="font-family:'Liberation Sans',sans-serif;font-size:5.8px;font-weight:normal;fill:#111;" >P51674</text>
<text x="641.80" y="311.05" text-anchor="start" style="font-family:'Liberation Sans',sans-serif;font-size:5.8px;font-weight:normal;fill:#111;" >Q99497</text>
<text x="641.80" y="317.67" text-anchor="start" style="font-family:'Liberation Sans',sans-serif;font-size:5.8px;font-weight:normal;fill:#111;" >P0DP09</text>
<text x="641.80" y="324.29" text-anchor="start" style="font-family:'Liberation Sans',sans-serif;font-size:5.8px;font-weight:normal;fill:#111;" >P40227</text>
<text transform="translate(529.98,369.5) rotate(-90)" style="font-family:'Liberation Serif',serif;font-size:10.1px;font-weight:bold">Patient 1</text>
<text transform="translate(541.75,369.5) rotate(-90)" style="font-family:'Liberation Serif',serif;font-size:10.1px;font-weight:bold">Patient 2</text>
<text transform="translate(553.51,369.5) rotate(-90)" style="font-family:'Liberation Serif',serif;font-size:10.1px;font-weight:bold">Patient 3</text>
<text transform="translate(565.28,369.5) rotate(-90)" style="font-family:'Liberation Serif',serif;font-size:10.1px;font-weight:bold">Patient 4</text>
<text transform="translate(577.04,369.5) rotate(-90)" style="font-family:'Liberation Serif',serif;font-size:10.1px;font-weight:bold">Patient 5</text>
<text transform="translate(588.81,369.5) rotate(-90)" style="font-family:'Liberation Serif',serif;font-size:10.1px;font-weight:bold">Patient 1</text>
<text transform="translate(600.57,369.5) rotate(-90)" style="font-family:'Liberation Serif',serif;font-size:10.1px;font-weight:bold">Patient 2</text>
<text transform="translate(612.34,369.5) rotate(-90)" style="font-family:'Liberation Serif',serif;font-size:10.1px;font-weight:bold">Patient 3</text>
<text transform="translate(624.10,369.5) rotate(-90)" style="font-family:'Liberation Serif',serif;font-size:10.1px;font-weight:bold">Patient 4</text>
<text transform="translate(635.87,369.5) rotate(-90)" style="font-family:'Liberation Serif',serif;font-size:10.1px;font-weight:bold">Patient 5</text>
<rect x="522.3" y="78.1" width="58.5" height="13.3" fill="#f3deb0"/>
<rect x="580.8" y="78.1" width="59.4" height="13.3" fill="#ef9b7a"/>
<text x="524.30" y="88.20" text-anchor="start" style="font-family:'Liberation Serif',serif;font-size:10.6px;font-weight:bold;fill:#000;" >Pre-CAND</text>
<text x="582.90" y="88.20" text-anchor="start" style="font-family:'Liberation Serif',serif;font-size:10.6px;font-weight:bold;fill:#000;" >Post-CAND</text>
<defs><linearGradient id="ck" x1="0" x2="1" y1="0" y2="0"><stop offset="0" stop-color="#1e1e96"/><stop offset="0.468" stop-color="#ffffff"/><stop offset="1" stop-color="#d02626"/></linearGradient></defs>
<rect x="448.9" y="5" width="73.2" height="53.9" fill="url(#ck)"/>
<line x1="448.9" y1="58.9" x2="522.1" y2="58.9" stroke="#999" stroke-width="0.6"/>
<line x1="454.5" y1="58.9" x2="454.5" y2="60.6" stroke="#555" stroke-width="0.6"/>
<text x="454.10" y="66.40" text-anchor="middle" style="font-family:'Liberation Sans',sans-serif;font-size:6.6px;font-weight:normal;fill:#111;" >-2</text>
<line x1="468.8" y1="58.9" x2="468.8" y2="60.6" stroke="#555" stroke-width="0.6"/>
<text x="468.40" y="66.40" text-anchor="middle" style="font-family:'Liberation Sans',sans-serif;font-size:6.6px;font-weight:normal;fill:#111;" >-1</text>
<line x1="483.1" y1="58.9" x2="483.1" y2="60.6" stroke="#555" stroke-width="0.6"/>
<text x="483.10" y="66.40" text-anchor="middle" style="font-family:'Liberation Sans',sans-serif;font-size:6.6px;font-weight:normal;fill:#111;" >0</text>
<line x1="497.4" y1="58.9" x2="497.4" y2="60.6" stroke="#555" stroke-width="0.6"/>
<text x="497.40" y="66.40" text-anchor="middle" style="font-family:'Liberation Sans',sans-serif;font-size:6.6px;font-weight:normal;fill:#111;" >1</text>
<line x1="511.7" y1="58.9" x2="511.7" y2="60.6" stroke="#555" stroke-width="0.6"/>
<text x="511.70" y="66.40" text-anchor="middle" style="font-family:'Liberation Sans',sans-serif;font-size:6.6px;font-weight:normal;fill:#111;" >2</text>
<path d="M519.6,97.1H517.2V103.7H519.6M517.2,100.4H513.7V110.3H519.6M519.6,117.0H514.5V123.6H519.6M513.7,105.4H510.5V120.3H514.5M519.6,130.2H512.5V136.8H519.6M510.5,112.8H507.2V133.5H512.5M519.6,143.4H515.3V150.1H519.6M515.3,146.8H508.3V156.7H519.6M507.2,123.2H494.5V151.7H508.3M519.6,163.3H499.5V169.9H519.6M494.5,137.5H486.3V166.6H499.5M519.6,176.6H517.6V183.2H519.6M517.6,179.9H512.4V189.8H519.6M519.6,196.4H516.4V203.0H519.6M512.4,184.8H509.4V199.7H516.4M509.4,192.3H507.5V209.7H519.6M519.6,216.3H511.5V222.9H519.6M511.5,219.6H508.6V229.5H519.6M507.5,201.0H497.2V224.5H508.6M519.6,236.1H514.5V242.8H519.6M497.2,212.8H490.3V239.4H514.5M486.3,152.0H470.2V226.1H490.3M519.6,249.4H511.2V256.0H519.6M511.2,252.7H505.5V262.6H519.6M505.5,257.6H495.2V269.2H519.6M519.6,275.9H504.5V282.5H519.6M495.2,263.4H483.3V279.2H504.5M519.6,289.1H512.2V295.7H519.6M519.6,302.3H505.7V308.9H519.6M512.2,292.4H502.2V305.6H505.7M519.6,315.6H502.7V322.2H519.6M502.2,299.0H487.5V318.9H502.7M483.3,271.3H474.2V308.9H487.5M470.2,189.1H448.0V290.1H474.2" fill="none" stroke="#707070" stroke-width="0.85"/>
<g fill="none" stroke-linecap="butt">
<line x1="167.6" y1="420.2" x2="157.1" y2="460.5" stroke="#52d846" stroke-width="0.95" stroke-dasharray="1.3 1.4"/>
<line x1="166.8" y1="420.0" x2="156.3" y2="460.3" stroke="#404040" stroke-width="0.95" stroke-dasharray="1.3 1.4"/>
<line x1="166.0" y1="419.8" x2="155.5" y2="460.1" stroke="#dc48dc" stroke-width="0.95" stroke-dasharray="1.3 1.4"/>
<line x1="165.2" y1="419.6" x2="154.7" y2="459.9" stroke="#c0ea58" stroke-width="0.95" stroke-dasharray="1.3 1.4"/>
<line x1="167.4" y1="419.3" x2="193.3" y2="461.6" stroke="#52d846" stroke-width="0.95" stroke-dasharray="1.3 1.4"/>
<line x1="166.7" y1="419.7" x2="192.6" y2="462.0" stroke="#404040" stroke-width="0.95" stroke-dasharray="1.3 1.4"/>
<line x1="166.1" y1="420.1" x2="192.0" y2="462.4" stroke="#dc48dc" stroke-width="0.95" stroke-dasharray="1.3 1.4"/>
<line x1="165.4" y1="420.5" x2="191.3" y2="462.8" stroke="#c0ea58" stroke-width="0.95" stroke-dasharray="1.3 1.4"/>
<line x1="166.8" y1="419.2" x2="222.6" y2="451.4" stroke="#52d846" stroke-width="0.95" stroke-dasharray="1.3 1.4"/>
<line x1="166.4" y1="419.9" x2="222.2" y2="452.1" stroke="#404040" stroke-width="0.95" stroke-dasharray="1.3 1.4"/>
<line x1="166.0" y1="420.6" x2="221.8" y2="452.8" stroke="#c0ea58" stroke-width="0.95" stroke-dasharray="1.3 1.4"/>
<line x1="166.4" y1="418.7" x2="214.4" y2="417.4" stroke="#52d846" stroke-width="0.95" stroke-dasharray="1.3 1.4"/>
<line x1="166.4" y1="419.5" x2="214.4" y2="418.2" stroke="#404040" stroke-width="0.95" stroke-dasharray="1.3 1.4"/>
<line x1="166.4" y1="420.3" x2="214.4" y2="419.0" stroke="#dc48dc" stroke-width="0.95" stroke-dasharray="1.3 1.4"/>
<line x1="166.4" y1="421.1" x2="214.4" y2="419.8" stroke="#c0ea58" stroke-width="0.95" stroke-dasharray="1.3 1.4"/>
<line x1="167.2" y1="420.2" x2="143.4" y2="488.9" stroke="#52d846" stroke-width="0.95" stroke-dasharray="1.3 1.4"/>
<line x1="166.4" y1="419.9" x2="142.6" y2="488.6" stroke="#404040" stroke-width="0.95" stroke-dasharray="1.3 1.4"/>
<line x1="165.6" y1="419.6" x2="141.8" y2="488.3" stroke="#c0ea58" stroke-width="0.95" stroke-dasharray="1.3 1.4"/>
<line x1="167.1" y1="420.3" x2="114.5" y2="506.7" stroke="#52d846" stroke-width="0.95" stroke-dasharray="1.3 1.4"/>
<line x1="166.4" y1="419.9" x2="113.8" y2="506.3" stroke="#404040" stroke-width="0.95" stroke-dasharray="1.3 1.4"/>
<line x1="165.7" y1="419.5" x2="113.1" y2="505.9" stroke="#c0ea58" stroke-width="0.95" stroke-dasharray="1.3 1.4"/>
<line x1="167.3" y1="419.2" x2="224.8" y2="493.7" stroke="#52d846" stroke-width="0.95" stroke-dasharray="1.3 1.4"/>
<line x1="166.7" y1="419.7" x2="224.2" y2="494.2" stroke="#404040" stroke-width="0.95" stroke-dasharray="1.3 1.4"/>
<line x1="166.1" y1="420.1" x2="223.6" y2="494.6" stroke="#dc48dc" stroke-width="0.95" stroke-dasharray="1.3 1.4"/>
<line x1="165.5" y1="420.6" x2="223.0" y2="495.1" stroke="#c0ea58" stroke-width="0.95" stroke-dasharray="1.3 1.4"/>
<line x1="167.5" y1="419.5" x2="197.9" y2="507.6" stroke="#52d846" stroke-width="0.95" stroke-dasharray="1.3 1.4"/>
<line x1="166.8" y1="419.8" x2="197.2" y2="507.9" stroke="#404040" stroke-width="0.95" stroke-dasharray="1.3 1.4"/>
<line x1="166.0" y1="420.0" x2="196.4" y2="508.1" stroke="#dc48dc" stroke-width="0.95" stroke-dasharray="1.3 1.4"/>
<line x1="165.3" y1="420.3" x2="195.7" y2="508.4" stroke="#c0ea58" stroke-width="0.95" stroke-dasharray="1.3 1.4"/>
<line x1="167.6" y1="420.1" x2="152.6" y2="519.0" stroke="#52d846" stroke-width="0.95" stroke-dasharray="1.3 1.4"/>
<line x1="166.8" y1="420.0" x2="151.8" y2="518.9" stroke="#404040" stroke-width="0.95" stroke-dasharray="1.3 1.4"/>
<line x1="166.0" y1="419.8" x2="151.0" y2="518.7" stroke="#dc48dc" stroke-width="0.95" stroke-dasharray="1.3 1.4"/>
<line x1="165.2" y1="419.7" x2="150.2" y2="518.6" stroke="#c0ea58" stroke-width="0.95" stroke-dasharray="1.3 1.4"/>
<line x1="166.9" y1="419.3" x2="249.9" y2="479.0" stroke="#52d846" stroke-width="0.95" stroke-dasharray="1.3 1.4"/>
<line x1="166.4" y1="419.9" x2="249.4" y2="479.6" stroke="#404040" stroke-width="0.95" stroke-dasharray="1.3 1.4"/>
<line x1="165.9" y1="420.5" x2="248.9" y2="480.2" stroke="#c0ea58" stroke-width="0.95" stroke-dasharray="1.3 1.4"/>
<line x1="109.9" y1="421.2" x2="156.4" y2="459.6" stroke="#52d846" stroke-width="0.95" stroke-dasharray="1.3 1.4"/>
<line x1="109.4" y1="421.8" x2="155.9" y2="460.2" stroke="#404040" stroke-width="0.95" stroke-dasharray="1.3 1.4"/>
<line x1="108.9" y1="422.4" x2="155.4" y2="460.8" stroke="#c0ea58" stroke-width="0.95" stroke-dasharray="1.3 1.4"/>
<line x1="110.5" y1="421.3" x2="143.7" y2="488.1" stroke="#52d846" stroke-width="0.95" stroke-dasharray="1.3 1.4"/>
<line x1="109.8" y1="421.6" x2="143.0" y2="488.4" stroke="#404040" stroke-width="0.95" stroke-dasharray="1.3 1.4"/>
<line x1="109.0" y1="422.0" x2="142.2" y2="488.8" stroke="#dc48dc" stroke-width="0.95" stroke-dasharray="1.3 1.4"/>
<line x1="108.3" y1="422.3" x2="141.5" y2="489.1" stroke="#c0ea58" stroke-width="0.95" stroke-dasharray="1.3 1.4"/>
<line x1="110.5" y1="421.3" x2="152.5" y2="518.3" stroke="#52d846" stroke-width="0.95" stroke-dasharray="1.3 1.4"/>
<line x1="109.8" y1="421.6" x2="151.8" y2="518.6" stroke="#404040" stroke-width="0.95" stroke-dasharray="1.3 1.4"/>
<line x1="109.0" y1="422.0" x2="151.0" y2="519.0" stroke="#dc48dc" stroke-width="0.95" stroke-dasharray="1.3 1.4"/>
<line x1="108.3" y1="422.3" x2="150.3" y2="519.3" stroke="#c0ea58" stroke-width="0.95" stroke-dasharray="1.3 1.4"/>
<line x1="110.6" y1="421.7" x2="115.0" y2="506.2" stroke="#52d846" stroke-width="0.95" stroke-dasharray="1.3 1.4"/>
<line x1="109.8" y1="421.8" x2="114.2" y2="506.3" stroke="#404040" stroke-width="0.95" stroke-dasharray="1.3 1.4"/>
<line x1="109.0" y1="421.8" x2="113.4" y2="506.3" stroke="#dc48dc" stroke-width="0.95" stroke-dasharray="1.3 1.4"/>
<line x1="108.2" y1="421.9" x2="112.6" y2="506.4" stroke="#c0ea58" stroke-width="0.95" stroke-dasharray="1.3 1.4"/>
<line x1="256.0" y1="402.8" x2="223.2" y2="452.8" stroke="#52d846" stroke-width="0.95" stroke-dasharray="1.3 1.4"/>
<line x1="255.3" y1="402.3" x2="222.5" y2="452.3" stroke="#404040" stroke-width="0.95" stroke-dasharray="1.3 1.4"/>
<line x1="254.7" y1="401.9" x2="221.9" y2="451.9" stroke="#dc48dc" stroke-width="0.95" stroke-dasharray="1.3 1.4"/>
<line x1="254.0" y1="401.4" x2="221.2" y2="451.4" stroke="#c0ea58" stroke-width="0.95" stroke-dasharray="1.3 1.4"/>
<line x1="214.9" y1="419.3" x2="156.4" y2="460.9" stroke="#8c8ce0" stroke-width="0.95" stroke-dasharray="1.3 1.4"/>
<line x1="214.4" y1="418.6" x2="155.9" y2="460.2" stroke="#dc48dc" stroke-width="0.95" stroke-dasharray="1.3 1.4"/>
<line x1="213.9" y1="417.9" x2="155.4" y2="459.5" stroke="#c0ea58" stroke-width="0.95" stroke-dasharray="1.3 1.4"/>
<line x1="215.1" y1="419.0" x2="193.0" y2="462.6" stroke="#8c8ce0" stroke-width="0.95" stroke-dasharray="1.3 1.4"/>
<line x1="214.4" y1="418.6" x2="192.3" y2="462.2" stroke="#dc48dc" stroke-width="0.95" stroke-dasharray="1.3 1.4"/>
<line x1="213.7" y1="418.2" x2="191.6" y2="461.8" stroke="#c0ea58" stroke-width="0.95" stroke-dasharray="1.3 1.4"/>
<line x1="222.5" y1="452.9" x2="192.6" y2="463.0" stroke="#c0ea58" stroke-width="0.95" stroke-dasharray="1.3 1.4"/>
<line x1="222.2" y1="452.1" x2="192.3" y2="462.2" stroke="#dc48dc" stroke-width="0.95" stroke-dasharray="1.3 1.4"/>
<line x1="221.9" y1="451.3" x2="192.0" y2="461.4" stroke="#404040" stroke-width="0.95" stroke-dasharray="1.3 1.4"/>
<line x1="223.1" y1="451.3" x2="250.3" y2="478.8" stroke="#c0ea58" stroke-width="0.95" stroke-dasharray="1.3 1.4"/>
<line x1="222.5" y1="451.8" x2="249.7" y2="479.3" stroke="#dc48dc" stroke-width="0.95" stroke-dasharray="1.3 1.4"/>
<line x1="221.9" y1="452.4" x2="249.1" y2="479.9" stroke="#404040" stroke-width="0.95" stroke-dasharray="1.3 1.4"/>
<line x1="221.3" y1="452.9" x2="248.5" y2="480.4" stroke="#52d846" stroke-width="0.95" stroke-dasharray="1.3 1.4"/>
<line x1="222.3" y1="452.9" x2="156.0" y2="461.0" stroke="#c0ea58" stroke-width="0.95" stroke-dasharray="1.3 1.4"/>
<line x1="222.2" y1="452.1" x2="155.9" y2="460.2" stroke="#dc48dc" stroke-width="0.95" stroke-dasharray="1.3 1.4"/>
<line x1="222.1" y1="451.3" x2="155.8" y2="459.4" stroke="#404040" stroke-width="0.95" stroke-dasharray="1.3 1.4"/>
<line x1="223.0" y1="452.1" x2="224.7" y2="494.4" stroke="#8c8ce0" stroke-width="0.95" stroke-dasharray="1.3 1.4"/>
<line x1="222.2" y1="452.1" x2="223.9" y2="494.4" stroke="#dc48dc" stroke-width="0.95" stroke-dasharray="1.3 1.4"/>
<line x1="221.4" y1="452.1" x2="223.1" y2="494.4" stroke="#c0ea58" stroke-width="0.95" stroke-dasharray="1.3 1.4"/>
<line x1="222.9" y1="452.4" x2="197.5" y2="508.3" stroke="#8c8ce0" stroke-width="0.95" stroke-dasharray="1.3 1.4"/>
<line x1="222.2" y1="452.1" x2="196.8" y2="508.0" stroke="#dc48dc" stroke-width="0.95" stroke-dasharray="1.3 1.4"/>
<line x1="221.5" y1="451.8" x2="196.1" y2="507.7" stroke="#c0ea58" stroke-width="0.95" stroke-dasharray="1.3 1.4"/>
<line x1="156.8" y1="459.4" x2="259.7" y2="565.9" stroke="#c0ea58" stroke-width="0.95" stroke-dasharray="1.3 1.4"/>
<line x1="156.2" y1="459.9" x2="259.1" y2="566.4" stroke="#dc48dc" stroke-width="0.95" stroke-dasharray="1.3 1.4"/>
<line x1="155.6" y1="460.5" x2="258.5" y2="567.0" stroke="#404040" stroke-width="0.95" stroke-dasharray="1.3 1.4"/>
<line x1="155.0" y1="461.0" x2="257.9" y2="567.5" stroke="#52d846" stroke-width="0.95" stroke-dasharray="1.3 1.4"/>
<line x1="143.0" y1="487.9" x2="259.2" y2="566.0" stroke="#8c8ce0" stroke-width="0.95" stroke-dasharray="1.3 1.4"/>
<line x1="142.6" y1="488.6" x2="258.8" y2="566.7" stroke="#dc48dc" stroke-width="0.95" stroke-dasharray="1.3 1.4"/>
<line x1="142.2" y1="489.3" x2="258.4" y2="567.4" stroke="#c0ea58" stroke-width="0.95" stroke-dasharray="1.3 1.4"/>
<line x1="224.6" y1="494.1" x2="259.5" y2="566.4" stroke="#c0ea58" stroke-width="0.95" stroke-dasharray="1.3 1.4"/>
<line x1="223.9" y1="494.4" x2="258.8" y2="566.7" stroke="#dc48dc" stroke-width="0.95" stroke-dasharray="1.3 1.4"/>
<line x1="223.2" y1="494.7" x2="258.1" y2="567.0" stroke="#404040" stroke-width="0.95" stroke-dasharray="1.3 1.4"/>
<line x1="197.4" y1="507.4" x2="259.4" y2="566.1" stroke="#c0ea58" stroke-width="0.95" stroke-dasharray="1.3 1.4"/>
<line x1="196.8" y1="508.0" x2="258.8" y2="566.7" stroke="#dc48dc" stroke-width="0.95" stroke-dasharray="1.3 1.4"/>
<line x1="196.2" y1="508.6" x2="258.2" y2="567.3" stroke="#404040" stroke-width="0.95" stroke-dasharray="1.3 1.4"/>
<line x1="250.2" y1="479.5" x2="259.6" y2="566.6" stroke="#8c8ce0" stroke-width="0.95" stroke-dasharray="1.3 1.4"/>
<line x1="249.4" y1="479.6" x2="258.8" y2="566.7" stroke="#dc48dc" stroke-width="0.95" stroke-dasharray="1.3 1.4"/>
<line x1="248.6" y1="479.7" x2="258.0" y2="566.8" stroke="#c0ea58" stroke-width="0.95" stroke-dasharray="1.3 1.4"/>
<line x1="214.5" y1="557.0" x2="259.0" y2="565.9" stroke="#8c8ce0" stroke-width="0.95" stroke-dasharray="1.3 1.4"/>
<line x1="214.3" y1="557.8" x2="258.8" y2="566.7" stroke="#dc48dc" stroke-width="0.95" stroke-dasharray="1.3 1.4"/>
<line x1="214.1" y1="558.6" x2="258.6" y2="567.5" stroke="#c0ea58" stroke-width="0.95" stroke-dasharray="1.3 1.4"/>
<line x1="151.7" y1="518.1" x2="259.1" y2="566.0" stroke="#c0ea58" stroke-width="0.95" stroke-dasharray="1.3 1.4"/>
<line x1="151.4" y1="518.8" x2="258.8" y2="566.7" stroke="#dc48dc" stroke-width="0.95" stroke-dasharray="1.3 1.4"/>
<line x1="151.1" y1="519.5" x2="258.5" y2="567.4" stroke="#404040" stroke-width="0.95" stroke-dasharray="1.3 1.4"/>
<line x1="173.8" y1="526.9" x2="259.3" y2="565.6" stroke="#c0ea58" stroke-width="0.95" stroke-dasharray="1.3 1.4"/>
<line x1="173.5" y1="527.6" x2="259.0" y2="566.3" stroke="#dc48dc" stroke-width="0.95" stroke-dasharray="1.3 1.4"/>
<line x1="173.1" y1="528.4" x2="258.6" y2="567.1" stroke="#404040" stroke-width="0.95" stroke-dasharray="1.3 1.4"/>
<line x1="172.8" y1="529.1" x2="258.3" y2="567.8" stroke="#52d846" stroke-width="0.95" stroke-dasharray="1.3 1.4"/>
<line x1="125.6" y1="550.6" x2="141.4" y2="488.3" stroke="#c0ea58" stroke-width="0.95" stroke-dasharray="1.3 1.4"/>
<line x1="126.4" y1="550.8" x2="142.2" y2="488.5" stroke="#dc48dc" stroke-width="0.95" stroke-dasharray="1.3 1.4"/>
<line x1="127.2" y1="551.0" x2="143.0" y2="488.7" stroke="#404040" stroke-width="0.95" stroke-dasharray="1.3 1.4"/>
<line x1="128.0" y1="551.2" x2="143.8" y2="488.9" stroke="#52d846" stroke-width="0.95" stroke-dasharray="1.3 1.4"/>
<line x1="126.2" y1="550.4" x2="150.8" y2="518.3" stroke="#8c8ce0" stroke-width="0.95" stroke-dasharray="1.3 1.4"/>
<line x1="126.8" y1="550.9" x2="151.4" y2="518.8" stroke="#dc48dc" stroke-width="0.95" stroke-dasharray="1.3 1.4"/>
<line x1="127.4" y1="551.4" x2="152.0" y2="519.3" stroke="#c0ea58" stroke-width="0.95" stroke-dasharray="1.3 1.4"/>
<line x1="126.4" y1="550.2" x2="172.9" y2="527.3" stroke="#c0ea58" stroke-width="0.95" stroke-dasharray="1.3 1.4"/>
<line x1="126.8" y1="550.9" x2="173.3" y2="528.0" stroke="#dc48dc" stroke-width="0.95" stroke-dasharray="1.3 1.4"/>
<line x1="127.2" y1="551.6" x2="173.7" y2="528.7" stroke="#404040" stroke-width="0.95" stroke-dasharray="1.3 1.4"/>
<line x1="126.0" y1="550.7" x2="155.1" y2="460.0" stroke="#c0ea58" stroke-width="0.95" stroke-dasharray="1.3 1.4"/>
<line x1="126.8" y1="550.9" x2="155.9" y2="460.2" stroke="#dc48dc" stroke-width="0.95" stroke-dasharray="1.3 1.4"/>
<line x1="127.6" y1="551.1" x2="156.7" y2="460.4" stroke="#404040" stroke-width="0.95" stroke-dasharray="1.3 1.4"/>
<line x1="112.2" y1="577.6" x2="113.0" y2="506.3" stroke="#8c8ce0" stroke-width="0.95" stroke-dasharray="1.3 1.4"/>
<line x1="113.0" y1="577.6" x2="113.8" y2="506.3" stroke="#dc48dc" stroke-width="0.95" stroke-dasharray="1.3 1.4"/>
<line x1="113.8" y1="577.6" x2="114.6" y2="506.3" stroke="#c0ea58" stroke-width="0.95" stroke-dasharray="1.3 1.4"/>
<line x1="112.2" y1="577.3" x2="141.8" y2="488.3" stroke="#8c8ce0" stroke-width="0.95" stroke-dasharray="1.3 1.4"/>
<line x1="113.0" y1="577.6" x2="142.6" y2="488.6" stroke="#dc48dc" stroke-width="0.95" stroke-dasharray="1.3 1.4"/>
<line x1="113.8" y1="577.9" x2="143.4" y2="488.9" stroke="#c0ea58" stroke-width="0.95" stroke-dasharray="1.3 1.4"/>
<line x1="172.2" y1="576.8" x2="155.1" y2="460.3" stroke="#c0ea58" stroke-width="0.95" stroke-dasharray="1.3 1.4"/>
<line x1="173.0" y1="576.7" x2="155.9" y2="460.2" stroke="#dc48dc" stroke-width="0.95" stroke-dasharray="1.3 1.4"/>
<line x1="173.8" y1="576.6" x2="156.7" y2="460.1" stroke="#404040" stroke-width="0.95" stroke-dasharray="1.3 1.4"/>
<line x1="172.2" y1="576.7" x2="172.5" y2="528.0" stroke="#c0ea58" stroke-width="0.95" stroke-dasharray="1.3 1.4"/>
<line x1="173.0" y1="576.7" x2="173.3" y2="528.0" stroke="#dc48dc" stroke-width="0.95" stroke-dasharray="1.3 1.4"/>
<line x1="173.8" y1="576.7" x2="174.1" y2="528.0" stroke="#404040" stroke-width="0.95" stroke-dasharray="1.3 1.4"/>
<line x1="172.3" y1="577.0" x2="150.7" y2="519.1" stroke="#8c8ce0" stroke-width="0.95" stroke-dasharray="1.3 1.4"/>
<line x1="173.0" y1="576.7" x2="151.4" y2="518.8" stroke="#dc48dc" stroke-width="0.95" stroke-dasharray="1.3 1.4"/>
<line x1="173.7" y1="576.4" x2="152.1" y2="518.5" stroke="#c0ea58" stroke-width="0.95" stroke-dasharray="1.3 1.4"/>
<line x1="171.9" y1="577.1" x2="141.5" y2="489.0" stroke="#c0ea58" stroke-width="0.95" stroke-dasharray="1.3 1.4"/>
<line x1="172.6" y1="576.8" x2="142.2" y2="488.7" stroke="#dc48dc" stroke-width="0.95" stroke-dasharray="1.3 1.4"/>
<line x1="173.4" y1="576.6" x2="143.0" y2="488.5" stroke="#404040" stroke-width="0.95" stroke-dasharray="1.3 1.4"/>
<line x1="174.1" y1="576.3" x2="143.7" y2="488.2" stroke="#52d846" stroke-width="0.95" stroke-dasharray="1.3 1.4"/>
<line x1="172.5" y1="575.6" x2="213.8" y2="556.7" stroke="#c0ea58" stroke-width="0.95" stroke-dasharray="1.3 1.4"/>
<line x1="172.8" y1="576.3" x2="214.1" y2="557.4" stroke="#dc48dc" stroke-width="0.95" stroke-dasharray="1.3 1.4"/>
<line x1="173.2" y1="577.1" x2="214.5" y2="558.2" stroke="#404040" stroke-width="0.95" stroke-dasharray="1.3 1.4"/>
<line x1="173.5" y1="577.8" x2="214.8" y2="558.9" stroke="#52d846" stroke-width="0.95" stroke-dasharray="1.3 1.4"/>
<line x1="172.9" y1="575.9" x2="258.7" y2="565.9" stroke="#8c8ce0" stroke-width="0.95" stroke-dasharray="1.3 1.4"/>
<line x1="173.0" y1="576.7" x2="258.8" y2="566.7" stroke="#dc48dc" stroke-width="0.95" stroke-dasharray="1.3 1.4"/>
<line x1="173.1" y1="577.5" x2="258.9" y2="567.5" stroke="#c0ea58" stroke-width="0.95" stroke-dasharray="1.3 1.4"/>
<line x1="172.2" y1="576.4" x2="196.0" y2="507.7" stroke="#8c8ce0" stroke-width="0.95" stroke-dasharray="1.3 1.4"/>
<line x1="173.0" y1="576.7" x2="196.8" y2="508.0" stroke="#dc48dc" stroke-width="0.95" stroke-dasharray="1.3 1.4"/>
<line x1="173.8" y1="577.0" x2="197.6" y2="508.3" stroke="#c0ea58" stroke-width="0.95" stroke-dasharray="1.3 1.4"/>
<line x1="215.2" y1="557.0" x2="265.9" y2="618.3" stroke="#c0ea58" stroke-width="0.95" stroke-dasharray="1.3 1.4"/>
<line x1="214.6" y1="557.5" x2="265.3" y2="618.8" stroke="#dc48dc" stroke-width="0.95" stroke-dasharray="1.3 1.4"/>
<line x1="214.0" y1="558.1" x2="264.7" y2="619.4" stroke="#404040" stroke-width="0.95" stroke-dasharray="1.3 1.4"/>
<line x1="213.4" y1="558.6" x2="264.1" y2="619.9" stroke="#52d846" stroke-width="0.95" stroke-dasharray="1.3 1.4"/>
<line x1="259.6" y1="566.6" x2="265.8" y2="619.0" stroke="#8c8ce0" stroke-width="0.95" stroke-dasharray="1.3 1.4"/>
<line x1="258.8" y1="566.7" x2="265.0" y2="619.1" stroke="#dc48dc" stroke-width="0.95" stroke-dasharray="1.3 1.4"/>
<line x1="258.0" y1="566.8" x2="264.2" y2="619.2" stroke="#c0ea58" stroke-width="0.95" stroke-dasharray="1.3 1.4"/>
<line x1="112.3" y1="577.2" x2="150.7" y2="518.4" stroke="#c0ea58" stroke-width="0.95" stroke-dasharray="1.3 1.4"/>
<line x1="113.0" y1="577.6" x2="151.4" y2="518.8" stroke="#dc48dc" stroke-width="0.95" stroke-dasharray="1.3 1.4"/>
<line x1="113.7" y1="578.0" x2="152.1" y2="519.2" stroke="#404040" stroke-width="0.95" stroke-dasharray="1.3 1.4"/>
<line x1="172.3" y1="576.3" x2="223.2" y2="494.0" stroke="#8c8ce0" stroke-width="0.95" stroke-dasharray="1.3 1.4"/>
<line x1="173.0" y1="576.7" x2="223.9" y2="494.4" stroke="#dc48dc" stroke-width="0.95" stroke-dasharray="1.3 1.4"/>
<line x1="173.7" y1="577.1" x2="224.6" y2="494.8" stroke="#c0ea58" stroke-width="0.95" stroke-dasharray="1.3 1.4"/>
<line x1="125.6" y1="551.2" x2="112.6" y2="506.6" stroke="#c0ea58" stroke-width="0.95" stroke-dasharray="1.3 1.4"/>
<line x1="126.4" y1="551.0" x2="113.4" y2="506.4" stroke="#dc48dc" stroke-width="0.95" stroke-dasharray="1.3 1.4"/>
<line x1="127.2" y1="550.8" x2="114.2" y2="506.2" stroke="#404040" stroke-width="0.95" stroke-dasharray="1.3 1.4"/>
<line x1="128.0" y1="550.6" x2="115.0" y2="506.0" stroke="#52d846" stroke-width="0.95" stroke-dasharray="1.3 1.4"/>
<line x1="171.1" y1="352.2" x2="166.8" y2="419.9" stroke="#dc48dc" stroke-width="0.85"/>
<line x1="170.3" y1="352.2" x2="166.0" y2="419.9" stroke="#c0ea58" stroke-width="0.85"/>
<line x1="118.4" y1="374.6" x2="110.5" y2="422.0" stroke="#46c4d6" stroke-width="0.85"/>
<line x1="117.7" y1="374.5" x2="109.8" y2="421.9" stroke="#4a4ad6" stroke-width="0.85"/>
<line x1="116.9" y1="374.3" x2="109.0" y2="421.7" stroke="#52d846" stroke-width="0.85"/>
<line x1="116.2" y1="374.2" x2="108.3" y2="421.6" stroke="#c0ea58" stroke-width="0.85"/>
<line x1="117.8" y1="373.8" x2="166.9" y2="419.3" stroke="#404040" stroke-width="0.85"/>
<line x1="117.3" y1="374.4" x2="166.4" y2="419.9" stroke="#52d846" stroke-width="0.85"/>
<line x1="116.8" y1="375.0" x2="165.9" y2="420.5" stroke="#c0ea58" stroke-width="0.85"/>
<line x1="109.3" y1="419.2" x2="166.3" y2="417.3" stroke="#52d846" stroke-width="0.85"/>
<line x1="109.3" y1="419.9" x2="166.3" y2="418.0" stroke="#e04040" stroke-width="0.85"/>
<line x1="109.4" y1="420.7" x2="166.4" y2="418.8" stroke="#4a4ad6" stroke-width="0.85"/>
<line x1="109.4" y1="421.4" x2="166.4" y2="419.5" stroke="#8c8ce0" stroke-width="0.85"/>
<line x1="109.4" y1="422.2" x2="166.4" y2="420.3" stroke="#404040" stroke-width="0.85"/>
<line x1="109.4" y1="422.9" x2="166.4" y2="421.0" stroke="#dc48dc" stroke-width="0.85"/>
<line x1="109.5" y1="423.7" x2="166.5" y2="421.8" stroke="#46c4d6" stroke-width="0.85"/>
<line x1="109.5" y1="424.4" x2="166.5" y2="422.5" stroke="#c0ea58" stroke-width="0.85"/>
<line x1="166.2" y1="418.8" x2="254.8" y2="401.0" stroke="#52d846" stroke-width="0.85"/>
<line x1="166.3" y1="419.5" x2="254.9" y2="401.7" stroke="#c0ea58" stroke-width="0.85"/>
<line x1="166.5" y1="420.3" x2="255.1" y2="402.5" stroke="#404040" stroke-width="0.85"/>
<line x1="166.6" y1="421.0" x2="255.2" y2="403.2" stroke="#dc48dc" stroke-width="0.85"/>
<line x1="215.1" y1="418.4" x2="222.9" y2="451.9" stroke="#4a4ad6" stroke-width="0.85"/>
<line x1="214.4" y1="418.6" x2="222.2" y2="452.1" stroke="#dc48dc" stroke-width="0.85"/>
<line x1="213.7" y1="418.8" x2="221.5" y2="452.3" stroke="#c0ea58" stroke-width="0.85"/>
<line x1="78.3" y1="458.7" x2="155.9" y2="459.8" stroke="#404040" stroke-width="0.85"/>
<line x1="78.3" y1="459.5" x2="155.9" y2="460.6" stroke="#c0ea58" stroke-width="0.85"/>
<line x1="78.5" y1="458.8" x2="142.8" y2="488.3" stroke="#404040" stroke-width="0.85"/>
<line x1="78.1" y1="459.4" x2="142.4" y2="488.9" stroke="#c0ea58" stroke-width="0.85"/>
<line x1="42.3" y1="514.6" x2="113.6" y2="504.8" stroke="#dc48dc" stroke-width="0.85"/>
<line x1="42.4" y1="515.4" x2="113.7" y2="505.6" stroke="#8c8ce0" stroke-width="0.85"/>
<line x1="42.5" y1="516.1" x2="113.8" y2="506.3" stroke="#c0ea58" stroke-width="0.85"/>
<line x1="42.6" y1="516.8" x2="113.9" y2="507.0" stroke="#4a4ad6" stroke-width="0.85"/>
<line x1="42.7" y1="517.6" x2="114.0" y2="507.8" stroke="#dc48dc" stroke-width="0.85"/>
<line x1="308.6" y1="473.1" x2="224.0" y2="494.8" stroke="#404040" stroke-width="0.85"/>
<line x1="308.4" y1="472.3" x2="223.8" y2="494.0" stroke="#c0ea58" stroke-width="0.85"/>
<line x1="258.7" y1="566.3" x2="298.7" y2="556.0" stroke="#dc48dc" stroke-width="0.85"/>
<line x1="258.9" y1="567.1" x2="298.9" y2="556.8" stroke="#c0ea58" stroke-width="0.85"/>
<line x1="127.8" y1="551.4" x2="114.0" y2="578.1" stroke="#dc48dc" stroke-width="0.85"/>
<line x1="127.1" y1="551.1" x2="113.3" y2="577.8" stroke="#8c8ce0" stroke-width="0.85"/>
<line x1="126.5" y1="550.7" x2="112.7" y2="577.4" stroke="#c0ea58" stroke-width="0.85"/>
<line x1="125.8" y1="550.4" x2="112.0" y2="577.1" stroke="#46c4d6" stroke-width="0.85"/>
<line x1="127.2" y1="550.2" x2="173.4" y2="576.0" stroke="#dc48dc" stroke-width="0.85"/>
<line x1="126.8" y1="550.9" x2="173.0" y2="576.7" stroke="#404040" stroke-width="0.85"/>
<line x1="126.4" y1="551.6" x2="172.6" y2="577.4" stroke="#c0ea58" stroke-width="0.85"/>
<line x1="113.0" y1="576.5" x2="173.0" y2="575.6" stroke="#dc48dc" stroke-width="0.85"/>
<line x1="113.0" y1="577.2" x2="173.0" y2="576.3" stroke="#8c8ce0" stroke-width="0.85"/>
<line x1="113.0" y1="578.0" x2="173.0" y2="577.1" stroke="#c0ea58" stroke-width="0.85"/>
<line x1="113.0" y1="578.7" x2="173.0" y2="577.8" stroke="#404040" stroke-width="0.85"/>
<line x1="113.5" y1="577.1" x2="143.2" y2="608.4" stroke="#dc48dc" stroke-width="0.85"/>
<line x1="113.0" y1="577.6" x2="142.7" y2="608.9" stroke="#c0ea58" stroke-width="0.85"/>
<line x1="112.5" y1="578.1" x2="142.2" y2="609.4" stroke="#8c8ce0" stroke-width="0.85"/>
<line x1="174.4" y1="578.0" x2="144.1" y2="610.2" stroke="#4a4ad6" stroke-width="0.85"/>
<line x1="173.8" y1="577.5" x2="143.5" y2="609.7" stroke="#8c8ce0" stroke-width="0.85"/>
<line x1="173.3" y1="577.0" x2="143.0" y2="609.2" stroke="#dc48dc" stroke-width="0.85"/>
<line x1="172.7" y1="576.4" x2="142.4" y2="608.6" stroke="#c0ea58" stroke-width="0.85"/>
<line x1="172.2" y1="575.9" x2="141.9" y2="608.1" stroke="#404040" stroke-width="0.85"/>
<line x1="171.6" y1="575.4" x2="141.3" y2="607.6" stroke="#4a4ad6" stroke-width="0.85"/>
<line x1="214.1" y1="603.2" x2="228.5" y2="651.3" stroke="#dc48dc" stroke-width="0.85"/>
<line x1="213.3" y1="603.4" x2="227.7" y2="651.5" stroke="#c0ea58" stroke-width="0.85"/>
<line x1="228.7" y1="650.9" x2="260.6" y2="689.9" stroke="#dc48dc" stroke-width="0.85"/>
<line x1="228.1" y1="651.4" x2="260.0" y2="690.4" stroke="#c0ea58" stroke-width="0.85"/>
<line x1="227.5" y1="651.9" x2="259.4" y2="690.9" stroke="#404040" stroke-width="0.85"/>
<line x1="265.3" y1="618.9" x2="294.8" y2="662.3" stroke="#404040" stroke-width="0.85"/>
<line x1="264.7" y1="619.3" x2="294.2" y2="662.7" stroke="#c0ea58" stroke-width="0.85"/>
<line x1="155.9" y1="459.5" x2="192.3" y2="461.5" stroke="#e04040" stroke-width="0.85"/>
<line x1="155.9" y1="460.2" x2="192.3" y2="462.2" stroke="#dc48dc" stroke-width="0.85"/>
<line x1="155.9" y1="460.9" x2="192.3" y2="462.9" stroke="#c0ea58" stroke-width="0.85"/>
<line x1="156.1" y1="459.1" x2="249.6" y2="478.5" stroke="#e04040" stroke-width="0.85"/>
<line x1="156.0" y1="459.8" x2="249.5" y2="479.2" stroke="#dc48dc" stroke-width="0.85"/>
<line x1="155.8" y1="460.6" x2="249.3" y2="480.0" stroke="#c0ea58" stroke-width="0.85"/>
<line x1="155.7" y1="461.3" x2="249.2" y2="480.7" stroke="#404040" stroke-width="0.85"/>
<line x1="158.3" y1="461.3" x2="145.0" y2="489.7" stroke="#dc48dc" stroke-width="0.85"/>
<line x1="157.6" y1="461.0" x2="144.3" y2="489.4" stroke="#4a4ad6" stroke-width="0.85"/>
<line x1="156.9" y1="460.7" x2="143.6" y2="489.1" stroke="#8c8ce0" stroke-width="0.85"/>
<line x1="156.2" y1="460.4" x2="142.9" y2="488.8" stroke="#46c4d6" stroke-width="0.85"/>
<line x1="155.6" y1="460.0" x2="142.3" y2="488.4" stroke="#52d846" stroke-width="0.85"/>
<line x1="154.9" y1="459.7" x2="141.6" y2="488.1" stroke="#c0ea58" stroke-width="0.85"/>
<line x1="154.2" y1="459.4" x2="140.9" y2="487.8" stroke="#404040" stroke-width="0.85"/>
<line x1="153.5" y1="459.1" x2="140.2" y2="487.5" stroke="#e04040" stroke-width="0.85"/>
<line x1="156.2" y1="459.5" x2="224.2" y2="493.7" stroke="#dc48dc" stroke-width="0.85"/>
<line x1="155.9" y1="460.2" x2="223.9" y2="494.4" stroke="#c0ea58" stroke-width="0.85"/>
<line x1="155.6" y1="460.9" x2="223.6" y2="495.1" stroke="#404040" stroke-width="0.85"/>
<line x1="157.3" y1="459.0" x2="198.2" y2="506.8" stroke="#dc48dc" stroke-width="0.85"/>
<line x1="156.8" y1="459.5" x2="197.7" y2="507.3" stroke="#4a4ad6" stroke-width="0.85"/>
<line x1="156.2" y1="460.0" x2="197.1" y2="507.8" stroke="#8c8ce0" stroke-width="0.85"/>
<line x1="155.6" y1="460.4" x2="196.5" y2="508.2" stroke="#c0ea58" stroke-width="0.85"/>
<line x1="155.0" y1="460.9" x2="195.9" y2="508.7" stroke="#404040" stroke-width="0.85"/>
<line x1="154.5" y1="461.4" x2="195.4" y2="509.2" stroke="#e04040" stroke-width="0.85"/>
<line x1="156.6" y1="460.3" x2="152.1" y2="518.9" stroke="#dc48dc" stroke-width="0.85"/>
<line x1="155.9" y1="460.2" x2="151.4" y2="518.8" stroke="#c0ea58" stroke-width="0.85"/>
<line x1="155.2" y1="460.1" x2="150.7" y2="518.7" stroke="#404040" stroke-width="0.85"/>
<line x1="157.0" y1="459.9" x2="174.4" y2="527.7" stroke="#dc48dc" stroke-width="0.85"/>
<line x1="156.3" y1="460.1" x2="173.7" y2="527.9" stroke="#4a4ad6" stroke-width="0.85"/>
<line x1="155.5" y1="460.3" x2="172.9" y2="528.1" stroke="#c0ea58" stroke-width="0.85"/>
<line x1="154.8" y1="460.5" x2="172.2" y2="528.3" stroke="#404040" stroke-width="0.85"/>
<line x1="156.9" y1="459.6" x2="215.3" y2="557.2" stroke="#4a4ad6" stroke-width="0.85"/>
<line x1="156.2" y1="460.0" x2="214.6" y2="557.6" stroke="#dc48dc" stroke-width="0.85"/>
<line x1="155.6" y1="460.4" x2="214.0" y2="558.0" stroke="#c0ea58" stroke-width="0.85"/>
<line x1="154.9" y1="460.8" x2="213.3" y2="558.4" stroke="#404040" stroke-width="0.85"/>
<line x1="156.7" y1="461.0" x2="114.6" y2="507.1" stroke="#dc48dc" stroke-width="0.85"/>
<line x1="156.2" y1="460.5" x2="114.1" y2="506.6" stroke="#c0ea58" stroke-width="0.85"/>
<line x1="155.6" y1="459.9" x2="113.5" y2="506.0" stroke="#404040" stroke-width="0.85"/>
<line x1="155.1" y1="459.4" x2="113.0" y2="505.5" stroke="#52d846" stroke-width="0.85"/>
<line x1="143.2" y1="489.6" x2="114.4" y2="507.3" stroke="#dc48dc" stroke-width="0.85"/>
<line x1="142.8" y1="488.9" x2="114.0" y2="506.6" stroke="#c0ea58" stroke-width="0.85"/>
<line x1="142.4" y1="488.3" x2="113.6" y2="506.0" stroke="#404040" stroke-width="0.85"/>
<line x1="142.0" y1="487.6" x2="113.2" y2="505.3" stroke="#8c8ce0" stroke-width="0.85"/>
<line x1="142.7" y1="487.9" x2="224.0" y2="493.7" stroke="#dc48dc" stroke-width="0.85"/>
<line x1="142.6" y1="488.6" x2="223.9" y2="494.4" stroke="#c0ea58" stroke-width="0.85"/>
<line x1="142.5" y1="489.3" x2="223.8" y2="495.1" stroke="#404040" stroke-width="0.85"/>
<line x1="143.1" y1="487.2" x2="197.3" y2="506.6" stroke="#dc48dc" stroke-width="0.85"/>
<line x1="142.9" y1="487.9" x2="197.1" y2="507.3" stroke="#4a4ad6" stroke-width="0.85"/>
<line x1="142.6" y1="488.6" x2="196.8" y2="508.0" stroke="#c0ea58" stroke-width="0.85"/>
<line x1="142.3" y1="489.3" x2="196.5" y2="508.7" stroke="#404040" stroke-width="0.85"/>
<line x1="142.1" y1="490.0" x2="196.3" y2="509.4" stroke="#e04040" stroke-width="0.85"/>
<line x1="142.5" y1="487.9" x2="249.3" y2="478.9" stroke="#dc48dc" stroke-width="0.85"/>
<line x1="142.6" y1="488.6" x2="249.4" y2="479.6" stroke="#c0ea58" stroke-width="0.85"/>
<line x1="142.7" y1="489.3" x2="249.5" y2="480.3" stroke="#404040" stroke-width="0.85"/>
<line x1="143.3" y1="488.4" x2="152.1" y2="518.6" stroke="#dc48dc" stroke-width="0.85"/>
<line x1="142.6" y1="488.6" x2="151.4" y2="518.8" stroke="#c0ea58" stroke-width="0.85"/>
<line x1="141.9" y1="488.8" x2="150.7" y2="519.0" stroke="#404040" stroke-width="0.85"/>
<line x1="143.5" y1="487.9" x2="174.2" y2="527.3" stroke="#dc48dc" stroke-width="0.85"/>
<line x1="142.9" y1="488.4" x2="173.6" y2="527.8" stroke="#c0ea58" stroke-width="0.85"/>
<line x1="142.3" y1="488.8" x2="173.0" y2="528.2" stroke="#404040" stroke-width="0.85"/>
<line x1="141.7" y1="489.3" x2="172.4" y2="528.7" stroke="#8c8ce0" stroke-width="0.85"/>
<line x1="143.4" y1="487.8" x2="215.1" y2="557.0" stroke="#dc48dc" stroke-width="0.85"/>
<line x1="142.9" y1="488.3" x2="214.6" y2="557.5" stroke="#c0ea58" stroke-width="0.85"/>
<line x1="142.3" y1="488.9" x2="214.0" y2="558.1" stroke="#404040" stroke-width="0.85"/>
<line x1="141.8" y1="489.4" x2="213.5" y2="558.6" stroke="#8c8ce0" stroke-width="0.85"/>
<line x1="113.8" y1="505.2" x2="196.8" y2="506.9" stroke="#dc48dc" stroke-width="0.85"/>
<line x1="113.8" y1="505.9" x2="196.8" y2="507.6" stroke="#c0ea58" stroke-width="0.85"/>
<line x1="113.8" y1="506.7" x2="196.8" y2="508.4" stroke="#404040" stroke-width="0.85"/>
<line x1="113.8" y1="507.4" x2="196.8" y2="509.1" stroke="#8c8ce0" stroke-width="0.85"/>
<line x1="114.0" y1="505.6" x2="151.6" y2="518.1" stroke="#dc48dc" stroke-width="0.85"/>
<line x1="113.8" y1="506.3" x2="151.4" y2="518.8" stroke="#c0ea58" stroke-width="0.85"/>
<line x1="113.6" y1="507.0" x2="151.2" y2="519.5" stroke="#404040" stroke-width="0.85"/>
<line x1="114.1" y1="505.6" x2="173.6" y2="527.3" stroke="#dc48dc" stroke-width="0.85"/>
<line x1="113.8" y1="506.3" x2="173.3" y2="528.0" stroke="#c0ea58" stroke-width="0.85"/>
<line x1="113.5" y1="507.0" x2="173.0" y2="528.7" stroke="#404040" stroke-width="0.85"/>
<line x1="113.8" y1="505.9" x2="223.9" y2="494.0" stroke="#dc48dc" stroke-width="0.85"/>
<line x1="113.8" y1="506.7" x2="223.9" y2="494.8" stroke="#c0ea58" stroke-width="0.85"/>
<line x1="192.5" y1="461.5" x2="249.6" y2="478.9" stroke="#dc48dc" stroke-width="0.85"/>
<line x1="192.3" y1="462.2" x2="249.4" y2="479.6" stroke="#c0ea58" stroke-width="0.85"/>
<line x1="192.1" y1="462.9" x2="249.2" y2="480.3" stroke="#404040" stroke-width="0.85"/>
<line x1="192.6" y1="461.9" x2="224.2" y2="494.1" stroke="#dc48dc" stroke-width="0.85"/>
<line x1="192.0" y1="462.5" x2="223.6" y2="494.7" stroke="#c0ea58" stroke-width="0.85"/>
<line x1="193.0" y1="462.1" x2="197.5" y2="507.9" stroke="#dc48dc" stroke-width="0.85"/>
<line x1="192.3" y1="462.2" x2="196.8" y2="508.0" stroke="#c0ea58" stroke-width="0.85"/>
<line x1="191.6" y1="462.3" x2="196.1" y2="508.1" stroke="#404040" stroke-width="0.85"/>
<line x1="192.7" y1="462.9" x2="143.0" y2="489.3" stroke="#dc48dc" stroke-width="0.85"/>
<line x1="192.3" y1="462.2" x2="142.6" y2="488.6" stroke="#c0ea58" stroke-width="0.85"/>
<line x1="191.9" y1="461.5" x2="142.2" y2="487.9" stroke="#404040" stroke-width="0.85"/>
<line x1="249.8" y1="480.2" x2="224.3" y2="495.0" stroke="#dc48dc" stroke-width="0.85"/>
<line x1="249.4" y1="479.6" x2="223.9" y2="494.4" stroke="#c0ea58" stroke-width="0.85"/>
<line x1="249.0" y1="479.0" x2="223.5" y2="493.8" stroke="#404040" stroke-width="0.85"/>
<line x1="249.8" y1="480.3" x2="197.2" y2="508.7" stroke="#dc48dc" stroke-width="0.85"/>
<line x1="249.4" y1="479.6" x2="196.8" y2="508.0" stroke="#c0ea58" stroke-width="0.85"/>
<line x1="249.0" y1="478.9" x2="196.4" y2="507.3" stroke="#404040" stroke-width="0.85"/>
<line x1="250.1" y1="479.9" x2="215.0" y2="558.1" stroke="#8c8ce0" stroke-width="0.85"/>
<line x1="249.4" y1="479.6" x2="214.3" y2="557.8" stroke="#dc48dc" stroke-width="0.85"/>
<line x1="248.7" y1="479.3" x2="213.6" y2="557.5" stroke="#404040" stroke-width="0.85"/>
<line x1="224.2" y1="495.1" x2="197.1" y2="508.7" stroke="#dc48dc" stroke-width="0.85"/>
<line x1="223.9" y1="494.4" x2="196.8" y2="508.0" stroke="#c0ea58" stroke-width="0.85"/>
<line x1="223.6" y1="493.7" x2="196.5" y2="507.3" stroke="#404040" stroke-width="0.85"/>
<line x1="224.3" y1="494.5" x2="214.7" y2="557.9" stroke="#404040" stroke-width="0.85"/>
<line x1="223.5" y1="494.3" x2="213.9" y2="557.7" stroke="#c0ea58" stroke-width="0.85"/>
<line x1="197.1" y1="509.1" x2="151.7" y2="519.9" stroke="#dc48dc" stroke-width="0.85"/>
<line x1="196.9" y1="508.4" x2="151.5" y2="519.2" stroke="#c0ea58" stroke-width="0.85"/>
<line x1="196.7" y1="507.6" x2="151.3" y2="518.4" stroke="#404040" stroke-width="0.85"/>
<line x1="196.5" y1="506.9" x2="151.1" y2="517.7" stroke="#8c8ce0" stroke-width="0.85"/>
<line x1="197.3" y1="508.6" x2="173.8" y2="528.6" stroke="#dc48dc" stroke-width="0.85"/>
<line x1="196.8" y1="508.0" x2="173.3" y2="528.0" stroke="#c0ea58" stroke-width="0.85"/>
<line x1="196.3" y1="507.4" x2="172.8" y2="527.4" stroke="#404040" stroke-width="0.85"/>
<line x1="197.9" y1="507.6" x2="215.4" y2="557.4" stroke="#dc48dc" stroke-width="0.85"/>
<line x1="197.2" y1="507.9" x2="214.7" y2="557.7" stroke="#c0ea58" stroke-width="0.85"/>
<line x1="196.4" y1="508.1" x2="213.9" y2="557.9" stroke="#404040" stroke-width="0.85"/>
<line x1="195.7" y1="508.4" x2="213.2" y2="558.2" stroke="#8c8ce0" stroke-width="0.85"/>
<line x1="151.7" y1="518.1" x2="173.6" y2="527.3" stroke="#dc48dc" stroke-width="0.85"/>
<line x1="151.4" y1="518.8" x2="173.3" y2="528.0" stroke="#c0ea58" stroke-width="0.85"/>
<line x1="151.1" y1="519.5" x2="173.0" y2="528.7" stroke="#404040" stroke-width="0.85"/>
<line x1="174.0" y1="527.1" x2="215.0" y2="556.9" stroke="#e04040" stroke-width="0.85"/>
<line x1="173.5" y1="527.7" x2="214.5" y2="557.5" stroke="#dc48dc" stroke-width="0.85"/>
<line x1="173.1" y1="528.3" x2="214.1" y2="558.1" stroke="#c0ea58" stroke-width="0.85"/>
<line x1="172.6" y1="528.9" x2="213.6" y2="558.7" stroke="#404040" stroke-width="0.85"/>
<line x1="151.8" y1="518.2" x2="214.7" y2="557.2" stroke="#dc48dc" stroke-width="0.85"/>
<line x1="151.4" y1="518.8" x2="214.3" y2="557.8" stroke="#c0ea58" stroke-width="0.85"/>
<line x1="151.0" y1="519.4" x2="213.9" y2="558.4" stroke="#404040" stroke-width="0.85"/>
<line x1="114.0" y1="506.0" x2="214.5" y2="557.5" stroke="#dc48dc" stroke-width="0.85"/>
<line x1="113.6" y1="506.6" x2="214.1" y2="558.1" stroke="#c0ea58" stroke-width="0.85"/>
</g>
<circle cx="170.7" cy="352.2" r="6.45" fill="#ec8a90" stroke="#b4505a" stroke-width="0.75"/>
<circle cx="117.3" cy="374.4" r="6.45" fill="#c2e187" stroke="#7f9f52" stroke-width="0.75"/>
<circle cx="109.4" cy="421.8" r="6.45" fill="#c2e187" stroke="#7f9f52" stroke-width="0.75"/>
<circle cx="166.4" cy="419.9" r="6.45" fill="#c2e187" stroke="#7f9f52" stroke-width="0.75"/>
<circle cx="255" cy="402.1" r="6.45" fill="#c2e187" stroke="#7f9f52" stroke-width="0.75"/>
<circle cx="214.4" cy="418.6" r="6.45" fill="#9f9fe8" stroke="#5858b0" stroke-width="0.75"/>
<circle cx="222.2" cy="452.1" r="6.45" fill="#9f9fe8" stroke="#5858b0" stroke-width="0.75"/>
<circle cx="284.1" cy="422.6" r="6.45" fill="#ffffff" stroke="#a0a0a0" stroke-width="0.75"/>
<circle cx="274" cy="442.8" r="6.45" fill="#ffffff" stroke="#a0a0a0" stroke-width="0.75"/>
<circle cx="155.9" cy="460.2" r="6.45" fill="#ec8a90" stroke="#b4505a" stroke-width="0.75"/>
<circle cx="192.3" cy="462.2" r="6.45" fill="#ec8a90" stroke="#b4505a" stroke-width="0.75"/>
<circle cx="78.3" cy="459.1" r="6.45" fill="#ec8a90" stroke="#b4505a" stroke-width="0.75"/>
<circle cx="249.4" cy="479.6" r="6.45" fill="#ec8a90" stroke="#b4505a" stroke-width="0.75"/>
<circle cx="308.5" cy="472.7" r="6.45" fill="#ec8a90" stroke="#b4505a" stroke-width="0.75"/>
<circle cx="92.8" cy="493.1" r="6.45" fill="#ffffff" stroke="#a0a0a0" stroke-width="0.75"/>
<circle cx="142.6" cy="488.6" r="6.45" fill="#ec8a90" stroke="#b4505a" stroke-width="0.75"/>
<circle cx="223.9" cy="494.4" r="6.45" fill="#ec8a90" stroke="#b4505a" stroke-width="0.75"/>
<circle cx="294" cy="503.1" r="6.45" fill="#ffffff" stroke="#a0a0a0" stroke-width="0.75"/>
<circle cx="113.8" cy="506.3" r="6.45" fill="#ec8a90" stroke="#b4505a" stroke-width="0.75"/>
<circle cx="196.8" cy="508.0" r="6.45" fill="#ec8a90" stroke="#b4505a" stroke-width="0.75"/>
<circle cx="42.5" cy="516.1" r="6.45" fill="#ec8a90" stroke="#b4505a" stroke-width="0.75"/>
<circle cx="151.4" cy="518.8" r="6.45" fill="#ec8a90" stroke="#b4505a" stroke-width="0.75"/>
<circle cx="92.8" cy="533.3" r="6.45" fill="#ffffff" stroke="#a0a0a0" stroke-width="0.75"/>
<circle cx="273.9" cy="523" r="6.45" fill="#ffffff" stroke="#a0a0a0" stroke-width="0.75"/>
<circle cx="173.3" cy="528" r="6.45" fill="#ec8a90" stroke="#b4505a" stroke-width="0.75"/>
<circle cx="284" cy="543.2" r="6.45" fill="#ffffff" stroke="#a0a0a0" stroke-width="0.75"/>
<circle cx="126.8" cy="550.9" r="6.45" fill="#f4e6b8" stroke="#b3a272" stroke-width="0.75"/>
<circle cx="214.3" cy="557.8" r="6.45" fill="#ec8a90" stroke="#b4505a" stroke-width="0.75"/>
<circle cx="258.8" cy="566.7" r="6.45" fill="#93e3c3" stroke="#4fa383" stroke-width="0.75"/>
<circle cx="298.8" cy="556.4" r="6.45" fill="#93e3c3" stroke="#4fa383" stroke-width="0.75"/>
<circle cx="113" cy="577.6" r="6.45" fill="#f4e6b8" stroke="#b3a272" stroke-width="0.75"/>
<circle cx="173" cy="576.7" r="6.45" fill="#f4e6b8" stroke="#b3a272" stroke-width="0.75"/>
<circle cx="284" cy="583.5" r="6.45" fill="#ffffff" stroke="#a0a0a0" stroke-width="0.75"/>
<circle cx="213.7" cy="603.3" r="6.45" fill="#c8f6c0" stroke="#82b67e" stroke-width="0.75"/>
<circle cx="294.2" cy="603.6" r="6.45" fill="#ffffff" stroke="#a0a0a0" stroke-width="0.75"/>
<circle cx="142.7" cy="608.9" r="6.45" fill="#f4e6b8" stroke="#b3a272" stroke-width="0.75"/>
<circle cx="93" cy="613.7" r="6.45" fill="#ffffff" stroke="#a0a0a0" stroke-width="0.75"/>
<circle cx="265" cy="619.1" r="6.45" fill="#c2e4f8" stroke="#74a4c4" stroke-width="0.75"/>
<circle cx="228.1" cy="651.4" r="6.45" fill="#c8f6c0" stroke="#82b67e" stroke-width="0.75"/>
<circle cx="294.5" cy="662.5" r="6.45" fill="#c2e4f8" stroke="#74a4c4" stroke-width="0.75"/>
<circle cx="260" cy="690.4" r="6.45" fill="#c8f6c0" stroke="#82b67e" stroke-width="0.75"/>
<text x="177.00" y="346.30" text-anchor="start" style="font-family:'Liberation Sans',sans-serif;font-size:4.2px;font-weight:bold;fill:#333;" >CDH13</text>
<text x="123.60" y="368.50" text-anchor="start" style="font-family:'Liberation Sans',sans-serif;font-size:4.2px;font-weight:bold;fill:#333;" >DPYSL5</text>
<text x="115.70" y="415.90" text-anchor="start" style="font-family:'Liberation Sans',sans-serif;font-size:4.2px;font-weight:bold;fill:#333;" >ATIC</text>
<text x="172.70" y="414.00" text-anchor="start" style="font-family:'Liberation Sans',sans-serif;font-size:4.2px;font-weight:bold;fill:#333;" >GART</text>
<text x="261.30" y="396.20" text-anchor="start" style="font-family:'Liberation Sans',sans-serif;font-size:4.2px;font-weight:bold;fill:#333;" >TARS1</text>
<text x="220.70" y="412.70" text-anchor="start" style="font-family:'Liberation Sans',sans-serif;font-size:4.2px;font-weight:bold;fill:#333;" >RPL35A</text>
<text x="228.50" y="446.20" text-anchor="start" style="font-family:'Liberation Sans',sans-serif;font-size:4.2px;font-weight:bold;fill:#333;" >RPL21</text>
<text x="290.40" y="416.70" text-anchor="start" style="font-family:'Liberation Sans',sans-serif;font-size:4.2px;font-weight:bold;fill:#333;" >DSTN</text>
<text x="280.30" y="436.90" text-anchor="start" style="font-family:'Liberation Sans',sans-serif;font-size:4.2px;font-weight:bold;fill:#333;" >F8</text>
<text x="162.20" y="454.30" text-anchor="start" style="font-family:'Liberation Sans',sans-serif;font-size:4.2px;font-weight:bold;fill:#333;" >HSPA8</text>
<text x="198.60" y="456.30" text-anchor="start" style="font-family:'Liberation Sans',sans-serif;font-size:4.2px;font-weight:bold;fill:#333;" >PSMA6</text>
<text x="84.60" y="453.20" text-anchor="start" style="font-family:'Liberation Sans',sans-serif;font-size:4.2px;font-weight:bold;fill:#333;" >ANXA6</text>
<text x="255.70" y="473.70" text-anchor="start" style="font-family:'Liberation Sans',sans-serif;font-size:4.2px;font-weight:bold;fill:#333;" >PPIA</text>
<text x="314.80" y="466.80" text-anchor="start" style="font-family:'Liberation Sans',sans-serif;font-size:4.2px;font-weight:bold;fill:#333;" >PHPT1</text>
<text x="99.10" y="487.20" text-anchor="start" style="font-family:'Liberation Sans',sans-serif;font-size:4.2px;font-weight:bold;fill:#333;" >CAPS</text>
<text x="148.90" y="482.70" text-anchor="start" style="font-family:'Liberation Sans',sans-serif;font-size:4.2px;font-weight:bold;fill:#333;" >HSP90AB1</text>
<text x="230.20" y="488.50" text-anchor="start" style="font-family:'Liberation Sans',sans-serif;font-size:4.2px;font-weight:bold;fill:#333;" >NME1</text>
<text x="300.30" y="497.20" text-anchor="start" style="font-family:'Liberation Sans',sans-serif;font-size:4.2px;font-weight:bold;fill:#333;" >APOA2</text>
<text x="120.10" y="500.40" text-anchor="start" style="font-family:'Liberation Sans',sans-serif;font-size:4.2px;font-weight:bold;fill:#333;" >CCT6A</text>
<text x="203.10" y="502.10" text-anchor="start" style="font-family:'Liberation Sans',sans-serif;font-size:4.2px;font-weight:bold;fill:#333;" >HSP90B1</text>
<text x="48.80" y="510.20" text-anchor="start" style="font-family:'Liberation Sans',sans-serif;font-size:4.2px;font-weight:bold;fill:#333;" >GNB1</text>
<text x="157.70" y="512.90" text-anchor="start" style="font-family:'Liberation Sans',sans-serif;font-size:4.2px;font-weight:bold;fill:#333;" >JUP1</text>
<text x="99.10" y="527.40" text-anchor="start" style="font-family:'Liberation Sans',sans-serif;font-size:4.2px;font-weight:bold;fill:#333;" >PLCD1</text>
<text x="280.20" y="517.10" text-anchor="start" style="font-family:'Liberation Sans',sans-serif;font-size:4.2px;font-weight:bold;fill:#333;" >LAP3</text>
<text x="179.60" y="522.10" text-anchor="start" style="font-family:'Liberation Sans',sans-serif;font-size:4.2px;font-weight:bold;fill:#333;" >VCP</text>
<text x="290.30" y="537.30" text-anchor="start" style="font-family:'Liberation Sans',sans-serif;font-size:4.2px;font-weight:bold;fill:#333;" >GPAA1</text>
<text x="133.10" y="545.00" text-anchor="start" style="font-family:'Liberation Sans',sans-serif;font-size:4.2px;font-weight:bold;fill:#333;" >DDX5</text>
<text x="220.60" y="551.90" text-anchor="start" style="font-family:'Liberation Sans',sans-serif;font-size:4.2px;font-weight:bold;fill:#333;" >ATP5F1B</text>
<text x="265.10" y="560.80" text-anchor="start" style="font-family:'Liberation Sans',sans-serif;font-size:4.2px;font-weight:bold;fill:#333;" >PARK7</text>
<text x="305.10" y="550.50" text-anchor="start" style="font-family:'Liberation Sans',sans-serif;font-size:4.2px;font-weight:bold;fill:#333;" >RAB3A</text>
<text x="119.30" y="571.70" text-anchor="start" style="font-family:'Liberation Sans',sans-serif;font-size:4.2px;font-weight:bold;fill:#333;" >DHX9</text>
<text x="179.30" y="570.80" text-anchor="start" style="font-family:'Liberation Sans',sans-serif;font-size:4.2px;font-weight:bold;fill:#333;" >FUS</text>
<text x="290.30" y="577.60" text-anchor="start" style="font-family:'Liberation Sans',sans-serif;font-size:4.2px;font-weight:bold;fill:#333;" >H1-10</text>
<text x="220.00" y="597.40" text-anchor="start" style="font-family:'Liberation Sans',sans-serif;font-size:4.2px;font-weight:bold;fill:#333;" >IGKV1-33</text>
<text x="300.50" y="597.70" text-anchor="start" style="font-family:'Liberation Sans',sans-serif;font-size:4.2px;font-weight:bold;fill:#333;" >NRCAM</text>
<text x="149.00" y="603.00" text-anchor="start" style="font-family:'Liberation Sans',sans-serif;font-size:4.2px;font-weight:bold;fill:#333;" >TAF15</text>
<text x="99.30" y="607.80" text-anchor="start" style="font-family:'Liberation Sans',sans-serif;font-size:4.2px;font-weight:bold;fill:#333;" >LANCL1</text>
<text x="271.30" y="613.20" text-anchor="start" style="font-family:'Liberation Sans',sans-serif;font-size:4.2px;font-weight:bold;fill:#333;" >IDH1</text>
<text x="234.40" y="645.50" text-anchor="start" style="font-family:'Liberation Sans',sans-serif;font-size:4.2px;font-weight:bold;fill:#333;" >C1R</text>
<text x="300.80" y="656.60" text-anchor="start" style="font-family:'Liberation Sans',sans-serif;font-size:4.2px;font-weight:bold;fill:#333;" >ALDH9A1</text>
<text x="266.30" y="684.50" text-anchor="start" style="font-family:'Liberation Sans',sans-serif;font-size:4.2px;font-weight:bold;fill:#333;" >FBLN1</text>
<text x="405.20" y="441.20" text-anchor="start" style="font-family:'Liberation Serif',serif;font-size:12.0px;font-weight:bold;fill:#000;" >Molecular Function (Gene Ontology) enrichment</text>
<rect x="428.3" y="452.80" width="204.7" height="28.27" fill="#eaf5f7"/>
<rect x="636.5" y="452.80" width="6.6" height="28.27" fill="#4aaac4"/>
<rect x="428.3" y="482.74" width="204.7" height="13.30" fill="#f3faf6"/>
<rect x="636.5" y="482.74" width="6.6" height="13.30" fill="#a3dfb6"/>
<rect x="428.3" y="497.71" width="204.7" height="13.30" fill="#f8fcf0"/>
<rect x="636.5" y="497.71" width="6.6" height="13.30" fill="#d6f1a8"/>
<rect x="428.3" y="512.68" width="204.7" height="13.30" fill="#f3faf6"/>
<rect x="636.5" y="512.68" width="6.6" height="13.30" fill="#a3dfb6"/>
<rect x="428.3" y="527.65" width="204.7" height="13.30" fill="#eaf5f7"/>
<rect x="636.5" y="527.65" width="6.6" height="13.30" fill="#4aaac4"/>
<rect x="428.3" y="542.62" width="204.7" height="28.27" fill="#eaf5f7"/>
<rect x="636.5" y="542.62" width="6.6" height="28.27" fill="#4aaac4"/>
<rect x="428.3" y="572.56" width="204.7" height="13.30" fill="#e9eff7"/>
<rect x="636.5" y="572.56" width="6.6" height="13.30" fill="#3f80bd"/>
<rect x="428.3" y="587.53" width="204.7" height="13.30" fill="#eaf5f7"/>
<rect x="636.5" y="587.53" width="6.6" height="13.30" fill="#4aaac4"/>
<rect x="428.3" y="602.50" width="204.7" height="13.30" fill="#f3faf6"/>
<rect x="636.5" y="602.50" width="6.6" height="13.30" fill="#a3dfb6"/>
<rect x="428.3" y="617.47" width="204.7" height="13.30" fill="#e9eff7"/>
<rect x="636.5" y="617.47" width="6.6" height="13.30" fill="#3f80bd"/>
<rect x="428.3" y="632.44" width="204.7" height="13.30" fill="#e8ebf5"/>
<rect x="636.5" y="632.44" width="6.6" height="13.30" fill="#2f4b9f"/>
<rect x="428.3" y="647.41" width="204.7" height="13.30" fill="#e8ebf5"/>
<rect x="636.5" y="647.41" width="6.6" height="13.30" fill="#2f4b9f"/>
<rect x="428.3" y="662.38" width="204.7" height="13.30" fill="#e9eff7"/>
<rect x="636.5" y="662.38" width="6.6" height="13.30" fill="#3f80bd"/>
<line x1="465.7" y1="446" x2="465.7" y2="679" stroke="#c8c8c8" stroke-width="0.5" stroke-dasharray="1.2 1"/>
<text x="465.70" y="690.50" text-anchor="middle" style="font-family:'Liberation Sans',sans-serif;font-size:5.0px;font-weight:normal;fill:#222;" >0.5</text>
<line x1="509.0" y1="446" x2="509.0" y2="679" stroke="#c8c8c8" stroke-width="0.5" stroke-dasharray="1.2 1"/>
<text x="509.00" y="690.50" text-anchor="middle" style="font-family:'Liberation Sans',sans-serif;font-size:5.0px;font-weight:normal;fill:#222;" >0.6</text>
<line x1="552.3" y1="446" x2="552.3" y2="679" stroke="#c8c8c8" stroke-width="0.5" stroke-dasharray="1.2 1"/>
<text x="552.30" y="690.50" text-anchor="middle" style="font-family:'Liberation Sans',sans-serif;font-size:5.0px;font-weight:normal;fill:#222;" >0.7</text>
<line x1="595.6" y1="446" x2="595.6" y2="679" stroke="#c8c8c8" stroke-width="0.5" stroke-dasharray="1.2 1"/>
<text x="595.60" y="690.50" text-anchor="middle" style="font-family:'Liberation Sans',sans-serif;font-size:5.0px;font-weight:normal;fill:#222;" >0.8</text>
<text x="530.50" y="697.20" text-anchor="middle" style="font-family:'Liberation Sans',sans-serif;font-size:5.2px;font-weight:normal;fill:#222;" >Signal</text>
<line x1="428.3" y1="460.00" x2="622.3" y2="460.00" stroke="#4aaac4" stroke-width="1.7"/>
<circle cx="622.3" cy="460.00" r="3.3" fill="#4aaac4" stroke="#6a8a8a" stroke-width="0.35"/>
<text x="426.80" y="461.80" text-anchor="end" style="font-family:'Liberation Sans',sans-serif;font-size:4.75px;font-weight:normal;fill:#000;" >Protein folding chaperone</text>
<line x1="428.3" y1="474.97" x2="600.5" y2="474.97" stroke="#4aaac4" stroke-width="1.7"/>
<circle cx="600.5" cy="474.97" r="3.3" fill="#4aaac4" stroke="#6a8a8a" stroke-width="0.35"/>
<text x="426.80" y="476.77" text-anchor="end" style="font-family:'Liberation Sans',sans-serif;font-size:4.75px;font-weight:normal;fill:#000;" >Unfolded protein binding</text>
<line x1="428.3" y1="489.94" x2="617.7" y2="489.94" stroke="#a3dfb6" stroke-width="1.7"/>
<circle cx="617.7" cy="489.94" r="4.8" fill="#a3dfb6" stroke="#6a8a8a" stroke-width="0.35"/>
<line x1="617.7" y1="485.14" x2="617.7" y2="494.74" stroke="#7a9a7a" stroke-width="0.4"/>
<text x="426.80" y="491.74" text-anchor="end" style="font-family:'Liberation Sans',sans-serif;font-size:4.75px;font-weight:normal;fill:#000;" >Cell adhesion molecule binding</text>
<line x1="428.3" y1="504.91" x2="552.5" y2="504.91" stroke="#d6f1a8" stroke-width="1.7"/>
<circle cx="552.5" cy="504.91" r="6.5" fill="#d6f1a8" stroke="#6a8a8a" stroke-width="0.35"/>
<line x1="552.5" y1="498.41" x2="552.5" y2="511.41" stroke="#7a9a7a" stroke-width="0.4"/>
<text x="426.80" y="506.71" text-anchor="end" style="font-family:'Liberation Sans',sans-serif;font-size:4.75px;font-weight:normal;fill:#000;" >RNA binding</text>
<line x1="428.3" y1="519.88" x2="548.0" y2="519.88" stroke="#a3dfb6" stroke-width="1.7"/>
<circle cx="548.0" cy="519.88" r="5.6" fill="#a3dfb6" stroke="#6a8a8a" stroke-width="0.35"/>
<line x1="548.0" y1="514.28" x2="548.0" y2="525.48" stroke="#7a9a7a" stroke-width="0.4"/>
<text x="426.80" y="521.68" text-anchor="end" style="font-family:'Liberation Sans',sans-serif;font-size:4.75px;font-weight:normal;fill:#000;" >Protein-containing complex binding</text>
<line x1="428.3" y1="534.85" x2="548.0" y2="534.85" stroke="#4aaac4" stroke-width="1.7"/>
<circle cx="548.0" cy="534.85" r="4.0" fill="#4aaac4" stroke="#6a8a8a" stroke-width="0.35"/>
<text x="426.80" y="536.65" text-anchor="end" style="font-family:'Liberation Sans',sans-serif;font-size:4.75px;font-weight:normal;fill:#000;" >Cadherin binding</text>
<line x1="428.3" y1="549.82" x2="548.0" y2="549.82" stroke="#4aaac4" stroke-width="1.7"/>
<circle cx="548.0" cy="549.82" r="4.0" fill="#4aaac4" stroke="#6a8a8a" stroke-width="0.35"/>
<text x="426.80" y="551.62" text-anchor="end" style="font-family:'Liberation Sans',sans-serif;font-size:4.75px;font-weight:normal;fill:#000;" >ATP hydrolysis activity</text>
<line x1="428.3" y1="564.79" x2="509.0" y2="564.79" stroke="#4aaac4" stroke-width="1.7"/>
<circle cx="509.0" cy="564.79" r="4.0" fill="#4aaac4" stroke="#6a8a8a" stroke-width="0.35"/>
<text x="426.80" y="566.59" text-anchor="end" style="font-family:'Liberation Sans',sans-serif;font-size:4.75px;font-weight:normal;fill:#000;" >ATP-dependent activity</text>
<line x1="428.3" y1="579.76" x2="539.3" y2="579.76" stroke="#3f80bd" stroke-width="1.7"/>
<circle cx="539.3" cy="579.76" r="2.3" fill="#3f80bd" stroke="#6a8a8a" stroke-width="0.35"/>
<text x="426.80" y="579.16" text-anchor="end" style="font-family:'Liberation Sans',sans-serif;font-size:4.75px;font-weight:normal;fill:#000;" >ATP-dependent protein folding</text>
<text x="426.80" y="584.36" text-anchor="end" style="font-family:'Liberation Sans',sans-serif;font-size:4.75px;font-weight:normal;fill:#000;" >chaperone</text>
<line x1="428.3" y1="594.73" x2="513.3" y2="594.73" stroke="#4aaac4" stroke-width="1.7"/>
<circle cx="513.3" cy="594.73" r="4.3" fill="#4aaac4" stroke="#6a8a8a" stroke-width="0.35"/>
<text x="426.80" y="596.53" text-anchor="end" style="font-family:'Liberation Sans',sans-serif;font-size:4.75px;font-weight:normal;fill:#000;" >Nucleoside-triphosphatase activity</text>
<line x1="428.3" y1="609.70" x2="504.7" y2="609.70" stroke="#a3dfb6" stroke-width="1.7"/>
<circle cx="504.7" cy="609.70" r="6.5" fill="#a3dfb6" stroke="#6a8a8a" stroke-width="0.35"/>
<line x1="504.7" y1="603.20" x2="504.7" y2="616.20" stroke="#7a9a7a" stroke-width="0.4"/>
<text x="426.80" y="611.50" text-anchor="end" style="font-family:'Liberation Sans',sans-serif;font-size:4.75px;font-weight:normal;fill:#000;" >Hydrolase activity</text>
<line x1="428.3" y1="624.67" x2="478.5" y2="624.67" stroke="#3f80bd" stroke-width="1.7"/>
<circle cx="478.5" cy="624.67" r="3.8" fill="#3f80bd" stroke="#6a8a8a" stroke-width="0.35"/>
<text x="426.80" y="626.47" text-anchor="end" style="font-family:'Liberation Sans',sans-serif;font-size:4.75px;font-weight:normal;fill:#000;" >mRNA binding</text>
<line x1="428.3" y1="639.64" x2="469.5" y2="639.64" stroke="#2f4b9f" stroke-width="1.7"/>
<circle cx="469.5" cy="639.64" r="3.0" fill="#2f4b9f" stroke="#6a8a8a" stroke-width="0.35"/>
<text x="426.80" y="641.44" text-anchor="end" style="font-family:'Liberation Sans',sans-serif;font-size:4.75px;font-weight:normal;fill:#000;" >Heat shock protein binding</text>
<line x1="428.3" y1="654.61" x2="460.9" y2="654.61" stroke="#2f4b9f" stroke-width="1.7"/>
<circle cx="460.9" cy="654.61" r="2.0" fill="#2f4b9f" stroke="#6a8a8a" stroke-width="0.35"/>
<text x="426.80" y="654.01" text-anchor="end" style="font-family:'Liberation Sans',sans-serif;font-size:4.75px;font-weight:normal;fill:#000;" >Hydroxymethyl-, formyl- and related</text>
<text x="426.80" y="659.21" text-anchor="end" style="font-family:'Liberation Sans',sans-serif;font-size:4.75px;font-weight:normal;fill:#000;" >transferase activity</text>
<line x1="428.3" y1="669.58" x2="438.9" y2="669.58" stroke="#3f80bd" stroke-width="1.7"/>
<circle cx="438.9" cy="669.58" r="4.3" fill="#3f80bd" stroke="#6a8a8a" stroke-width="0.35"/>
<text x="426.80" y="671.38" text-anchor="end" style="font-family:'Liberation Sans',sans-serif;font-size:4.75px;font-weight:normal;fill:#000;" >Calcium ion binding</text>
<text x="657.00" y="459.30" text-anchor="start" style="font-family:'Liberation Sans',sans-serif;font-size:4.8px;font-weight:normal;fill:#111;" >FDR</text>
<rect x="659" y="462.0" width="5" height="7.6" fill="#e0f5b0"/>
<line x1="664" y1="466.2" x2="665.5" y2="466.2" stroke="#333" stroke-width="0.4"/>
<text x="667.20" y="467.80" text-anchor="start" style="font-family:'Liberation Sans',sans-serif;font-size:4.8px;font-weight:normal;fill:#111;" >6.6e-06</text>
<rect x="659" y="469.5" width="5" height="7.6" fill="#ace3b8"/>
<line x1="664" y1="473.6" x2="665.5" y2="473.6" stroke="#333" stroke-width="0.4"/>
<text x="667.20" y="475.25" text-anchor="start" style="font-family:'Liberation Sans',sans-serif;font-size:4.8px;font-weight:normal;fill:#111;" >2.4e-05</text>
<rect x="659" y="477.0" width="5" height="7.6" fill="#72cfc1"/>
<line x1="664" y1="481.1" x2="665.5" y2="481.1" stroke="#333" stroke-width="0.4"/>
<text x="667.20" y="482.70" text-anchor="start" style="font-family:'Liberation Sans',sans-serif;font-size:4.8px;font-weight:normal;fill:#111;" >9.1e-05</text>
<rect x="659" y="484.5" width="5" height="7.6" fill="#48a9c8"/>
<line x1="664" y1="488.6" x2="665.5" y2="488.6" stroke="#333" stroke-width="0.4"/>
<text x="667.20" y="490.15" text-anchor="start" style="font-family:'Liberation Sans',sans-serif;font-size:4.8px;font-weight:normal;fill:#111;" >3.3e-04</text>
<rect x="659" y="492.0" width="5" height="7.6" fill="#3a7cbc"/>
<line x1="664" y1="496.0" x2="665.5" y2="496.0" stroke="#333" stroke-width="0.4"/>
<text x="667.20" y="497.60" text-anchor="start" style="font-family:'Liberation Sans',sans-serif;font-size:4.8px;font-weight:normal;fill:#111;" >1.2e-03</text>
<rect x="659" y="499.5" width="5" height="7.6" fill="#2c479e"/>
<line x1="664" y1="503.4" x2="665.5" y2="503.4" stroke="#333" stroke-width="0.4"/>
<text x="667.20" y="505.05" text-anchor="start" style="font-family:'Liberation Sans',sans-serif;font-size:4.8px;font-weight:normal;fill:#111;" >4.6e-03</text>
<text x="658.00" y="520.60" text-anchor="start" style="font-family:'Liberation Sans',sans-serif;font-size:4.9px;font-weight:normal;fill:#111;" >Gene count</text>
<circle cx="667" cy="528.6" r="1.7" fill="#d9f2a8" stroke="#8fa866" stroke-width="0.45"/>
<text x="676.00" y="530.30" text-anchor="start" style="font-family:'Liberation Sans',sans-serif;font-size:4.8px;font-weight:normal;fill:#111;" >2</text>
<circle cx="667" cy="539.6" r="4.4" fill="#d9f2a8" stroke="#8fa866" stroke-width="0.45"/>
<text x="676.00" y="541.30" text-anchor="start" style="font-family:'Liberation Sans',sans-serif;font-size:4.8px;font-weight:normal;fill:#111;" >10</text>
<circle cx="667" cy="553.6" r="5.6" fill="#d9f2a8" stroke="#8fa866" stroke-width="0.45"/>
<text x="676.00" y="555.30" text-anchor="start" style="font-family:'Liberation Sans',sans-serif;font-size:4.8px;font-weight:normal;fill:#111;" >15</text>
<circle cx="667" cy="570.6" r="6.6" fill="#d9f2a8" stroke="#8fa866" stroke-width="0.45"/>
<text x="676.00" y="572.30" text-anchor="start" style="font-family:'Liberation Sans',sans-serif;font-size:4.8px;font-weight:normal;fill:#111;" >20</text>
<text transform="translate(650.3,588) rotate(-90)" style="font-family:'Liberation Sans',sans-serif;font-size:4.8px;fill:#111">Groups of similarity 0.8</text>
</svg></body></html>
